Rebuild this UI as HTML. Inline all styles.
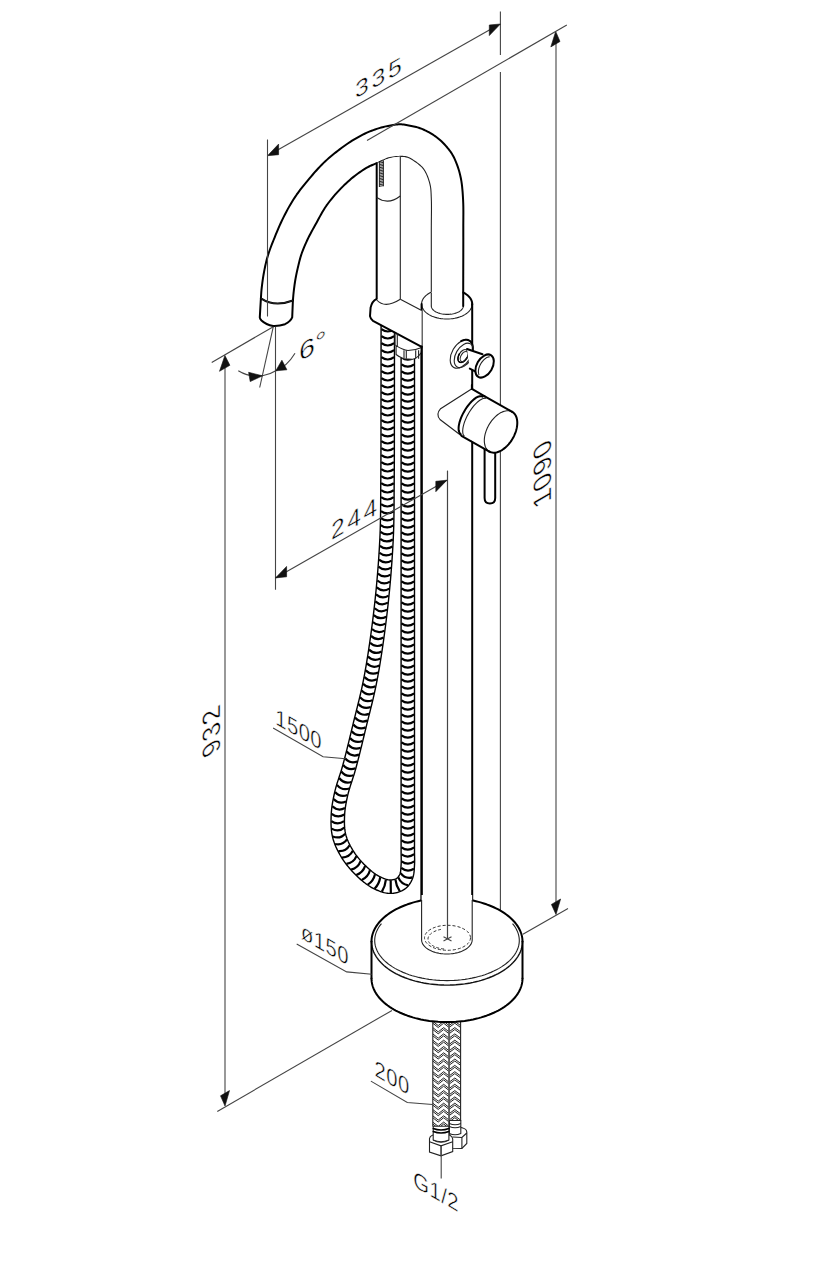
<!DOCTYPE html>
<html><head><meta charset="utf-8"><style>html,body{margin:0;padding:0;background:#fff;overflow:hidden;width:840px;height:1280px}svg{display:block}</style></head>
<body>
<svg width="840" height="1280" viewBox="0 0 840 1280">
<style>
.k{fill:none;stroke:#000;stroke-width:2;stroke-linejoin:round;stroke-linecap:round}
.kw{fill:#fff;stroke:#000;stroke-width:2;stroke-linejoin:round}
.t{fill:none;stroke:#222;stroke-width:1.1}
.tw{fill:#fff;stroke:#222;stroke-width:1.1}
.d{fill:none;stroke:#444;stroke-width:1.1}
.w{fill:#fff;stroke:none}
.ar{fill:#111;stroke:#111;stroke-width:0.6;stroke-linejoin:round}
.h{fill:none;stroke:#000;stroke-width:1.5;stroke-linecap:round}
.h2{fill:none;stroke:#111;stroke-width:0.9}
.he{fill:none;stroke:#000;stroke-width:1.4}
.hr{fill:none;stroke:#000;stroke-width:2.2}
.br{fill:none;stroke:#222;stroke-width:1}
.bm{fill:none;stroke:#666;stroke-width:1.6}
.m{fill:none;stroke:#111;stroke-width:1.4}
.dash{fill:none;stroke:#333;stroke-width:1;stroke-dasharray:3 2}
text{font-family:"Liberation Sans",sans-serif;fill:#000;stroke:#fff;stroke-width:0.5px}
</style>
<rect width="840" height="1280" fill="#fff"/>
<line x1="500.4" y1="11.4" x2="500.4" y2="55" class="d"/>
<line x1="500.4" y1="72" x2="500.4" y2="910.5" class="d"/>
<line x1="556" y1="36" x2="556" y2="910" class="d"/>
<line x1="522.9" y1="934.3" x2="568" y2="908.5" class="d"/>
<polygon points="555.7,31.4 560,41.5 550.8,46.9" class="ar"/>
<polygon points="556,914.5 560.6,899 551.4,904.4" class="ar"/>
<line x1="225" y1="360" x2="225" y2="1100" class="d"/>
<line x1="273.3" y1="326.7" x2="211.7" y2="362.5" class="d"/>
<line x1="392" y1="1010.4" x2="217.3" y2="1111.4" class="d"/>
<polygon points="224.9,355.5 229.9,365.3 219.5,371.3" class="ar"/>
<polygon points="225,1106 229.5,1090.6 220.5,1095.8" class="ar"/>
<path d="M260.9,298.4 L260.98,297.22 L261.05,296.06 L261.12,294.92 L261.19,293.77 L261.26,292.6 L261.36,291.39 L261.47,290.13 L261.6,288.8 L261.82,286.88 L262.07,284.82 L262.35,282.66 L262.66,280.44 L262.99,278.19 L263.34,275.94 L263.71,273.73 L264.1,271.6 L264.48,269.63 L264.87,267.68 L265.27,265.76 L265.7,263.85 L266.15,261.94 L266.63,260.03 L267.15,258.12 L267.7,256.2 L268.32,254.2 L268.97,252.22 L269.66,250.25 L270.38,248.27 L271.13,246.27 L271.92,244.23 L272.74,242.15 L273.6,240 L274.69,237.3 L275.83,234.49 L277.03,231.59 L278.28,228.65 L279.57,225.7 L280.89,222.76 L282.24,219.89 L283.6,217.1 L284.92,214.5 L286.26,211.93 L287.62,209.39 L289.02,206.88 L290.44,204.39 L291.91,201.94 L293.43,199.51 L295,197.1 L296.65,194.69 L298.36,192.31 L300.12,189.95 L301.93,187.62 L303.76,185.31 L305.61,183.04 L307.46,180.8 L309.3,178.6 L311.05,176.53 L312.81,174.48 L314.57,172.45 L316.35,170.46 L318.14,168.5 L319.94,166.58 L321.76,164.71 L323.6,162.9 L325.34,161.24 L327.11,159.63 L328.88,158.06 L330.67,156.53 L332.47,155.03 L334.27,153.56 L336.08,152.12 L337.9,150.7 L339.65,149.36 L341.41,148.03 L343.17,146.74 L344.94,145.47 L346.71,144.23 L348.5,143.02 L350.29,141.84 L352.1,140.7 L353.86,139.62 L355.63,138.56 L357.42,137.53 L359.21,136.52 L361,135.56 L362.8,134.63 L364.6,133.74 L366.4,132.9 L368.11,132.15 L369.85,131.43 L371.6,130.75 L373.34,130.1 L375.07,129.49 L376.76,128.92 L378.41,128.39 L380,127.9 L381.23,127.54 L382.42,127.21 L383.57,126.92 L384.7,126.64 L385.83,126.39 L386.96,126.15 L388.11,125.92 L389.3,125.7 L390.6,125.46 L391.92,125.21 L393.27,124.98 L394.62,124.76 L395.98,124.57 L397.33,124.42 L398.67,124.33 L400,124.3 L401.27,124.34 L402.53,124.43 L403.78,124.58 L405.03,124.76 L406.27,124.98 L407.52,125.21 L408.76,125.46 L410,125.7 L411.26,125.95 L412.52,126.2 L413.77,126.47 L415.03,126.76 L416.28,127.07 L417.53,127.41 L418.77,127.78 L420,128.2 L421.27,128.67 L422.54,129.18 L423.8,129.72 L425.05,130.29 L426.3,130.9 L427.54,131.54 L428.78,132.2 L430,132.9 L431.28,133.66 L432.55,134.44 L433.81,135.26 L435.07,136.11 L436.31,137 L437.55,137.94 L438.78,138.94 L440,140 L441.44,141.33 L442.91,142.77 L444.38,144.3 L445.84,145.88 L447.26,147.51 L448.6,149.15 L449.86,150.79 L451,152.4 L451.9,153.79 L452.72,155.17 L453.48,156.55 L454.19,157.94 L454.85,159.35 L455.48,160.79 L456.1,162.27 L456.7,163.8 L457.36,165.55 L457.98,167.35 L458.57,169.19 L459.13,171.06 L459.65,172.98 L460.14,174.94 L460.59,176.95 L461,179 L461.42,181.42 L461.78,183.9 L462.09,186.44 L462.35,189.03 L462.58,191.69 L462.77,194.4 L462.94,197.17 L463.1,200 L463.25,203.42 L463.33,206.86 L463.37,210.37 L463.37,213.97 L463.35,217.7 L463.32,221.59 L463.3,225.68 L463.3,230 L463.31,236.8 L463.31,244.2 L463.3,252.06 L463.28,260.23 L463.26,268.59 L463.24,277 L463.22,285.31 L463.2,293.4 L463.2,305 L431.3,305 L431.3,295.41 L431.3,285.5 L431.3,275.46 L431.3,265.49 L431.3,255.77 L431.3,246.49 L431.3,237.84 L431.3,230 L431.32,225.35 L431.35,220.92 L431.4,216.7 L431.44,212.69 L431.47,208.89 L431.46,205.27 L431.41,201.85 L431.3,198.6 L431.22,196.54 L431.15,194.62 L431.07,192.81 L430.97,191.07 L430.84,189.38 L430.64,187.71 L430.37,186.03 L430,184.3 L429.52,182.45 L428.97,180.55 L428.34,178.63 L427.65,176.74 L426.89,174.89 L426.08,173.13 L425.21,171.49 L424.3,170 L423.52,168.91 L422.71,167.9 L421.86,166.97 L420.97,166.1 L420.05,165.27 L419.1,164.47 L418.12,163.68 L417.1,162.9 L415.96,162.05 L414.74,161.19 L413.48,160.35 L412.18,159.54 L410.88,158.79 L409.58,158.12 L408.31,157.55 L407.1,157.1 L406.19,156.84 L405.32,156.65 L404.46,156.52 L403.61,156.43 L402.75,156.39 L401.88,156.38 L400.96,156.38 L400,156.4 L398.7,156.44 L397.33,156.51 L395.91,156.62 L394.45,156.77 L392.98,156.97 L391.5,157.23 L390.03,157.53 L388.6,157.9 L387.09,158.39 L385.57,158.98 L384.04,159.64 L382.52,160.36 L381.02,161.1 L379.54,161.84 L378.1,162.55 L376.7,163.2 L375.54,163.7 L374.44,164.16 L373.36,164.6 L372.29,165.03 L371.23,165.48 L370.15,165.96 L369.05,166.5 L367.9,167.1 L366.38,167.96 L364.81,168.9 L363.2,169.9 L361.57,170.97 L359.92,172.09 L358.27,173.26 L356.62,174.46 L355,175.7 L353.2,177.13 L351.4,178.61 L349.59,180.15 L347.78,181.75 L345.99,183.4 L344.2,185.09 L342.44,186.83 L340.7,188.6 L338.83,190.57 L336.96,192.61 L335.09,194.72 L333.24,196.87 L331.43,199.06 L329.68,201.27 L328,203.49 L326.4,205.7 L324.98,207.8 L323.64,209.93 L322.37,212.07 L321.14,214.23 L319.94,216.4 L318.77,218.57 L317.59,220.74 L316.4,222.9 L315.21,225.04 L314.01,227.2 L312.81,229.36 L311.63,231.53 L310.48,233.68 L309.37,235.82 L308.3,237.93 L307.3,240 L306.46,241.8 L305.65,243.58 L304.88,245.34 L304.13,247.08 L303.42,248.81 L302.75,250.54 L302.11,252.27 L301.5,254 L300.97,255.63 L300.47,257.26 L300.01,258.88 L299.58,260.51 L299.17,262.13 L298.78,263.75 L298.39,265.37 L298,267 L297.62,268.62 L297.25,270.25 L296.89,271.87 L296.54,273.5 L296.21,275.13 L295.89,276.75 L295.59,278.38 L295.3,280 L295.04,281.61 L294.79,283.25 L294.55,284.9 L294.33,286.55 L294.13,288.16 L293.94,289.74 L293.76,291.26 L293.6,292.7 L293.49,293.76 L293.39,294.78 L293.3,295.76 L293.22,296.72 L293.14,297.66 L293.06,298.59 L292.98,299.54 L292.9,300.5Z" class="w"/>
<path d="M260.9,298.4 L260.98,297.22 L261.05,296.06 L261.12,294.92 L261.19,293.77 L261.26,292.6 L261.36,291.39 L261.47,290.13 L261.6,288.8 L261.82,286.88 L262.07,284.82 L262.35,282.66 L262.66,280.44 L262.99,278.19 L263.34,275.94 L263.71,273.73 L264.1,271.6 L264.48,269.63 L264.87,267.68 L265.27,265.76 L265.7,263.85 L266.15,261.94 L266.63,260.03 L267.15,258.12 L267.7,256.2 L268.32,254.2 L268.97,252.22 L269.66,250.25 L270.38,248.27 L271.13,246.27 L271.92,244.23 L272.74,242.15 L273.6,240 L274.69,237.3 L275.83,234.49 L277.03,231.59 L278.28,228.65 L279.57,225.7 L280.89,222.76 L282.24,219.89 L283.6,217.1 L284.92,214.5 L286.26,211.93 L287.62,209.39 L289.02,206.88 L290.44,204.39 L291.91,201.94 L293.43,199.51 L295,197.1 L296.65,194.69 L298.36,192.31 L300.12,189.95 L301.93,187.62 L303.76,185.31 L305.61,183.04 L307.46,180.8 L309.3,178.6 L311.05,176.53 L312.81,174.48 L314.57,172.45 L316.35,170.46 L318.14,168.5 L319.94,166.58 L321.76,164.71 L323.6,162.9 L325.34,161.24 L327.11,159.63 L328.88,158.06 L330.67,156.53 L332.47,155.03 L334.27,153.56 L336.08,152.12 L337.9,150.7 L339.65,149.36 L341.41,148.03 L343.17,146.74 L344.94,145.47 L346.71,144.23 L348.5,143.02 L350.29,141.84 L352.1,140.7 L353.86,139.62 L355.63,138.56 L357.42,137.53 L359.21,136.52 L361,135.56 L362.8,134.63 L364.6,133.74 L366.4,132.9 L368.11,132.15 L369.85,131.43 L371.6,130.75 L373.34,130.1 L375.07,129.49 L376.76,128.92 L378.41,128.39 L380,127.9 L381.23,127.54 L382.42,127.21 L383.57,126.92 L384.7,126.64 L385.83,126.39 L386.96,126.15 L388.11,125.92 L389.3,125.7 L390.6,125.46 L391.92,125.21 L393.27,124.98 L394.62,124.76 L395.98,124.57 L397.33,124.42 L398.67,124.33 L400,124.3 L401.27,124.34 L402.53,124.43 L403.78,124.58 L405.03,124.76 L406.27,124.98 L407.52,125.21 L408.76,125.46 L410,125.7 L411.26,125.95 L412.52,126.2 L413.77,126.47 L415.03,126.76 L416.28,127.07 L417.53,127.41 L418.77,127.78 L420,128.2 L421.27,128.67 L422.54,129.18 L423.8,129.72 L425.05,130.29 L426.3,130.9 L427.54,131.54 L428.78,132.2 L430,132.9 L431.28,133.66 L432.55,134.44 L433.81,135.26 L435.07,136.11 L436.31,137 L437.55,137.94 L438.78,138.94 L440,140 L441.44,141.33 L442.91,142.77 L444.38,144.3 L445.84,145.88 L447.26,147.51 L448.6,149.15 L449.86,150.79 L451,152.4 L451.9,153.79 L452.72,155.17 L453.48,156.55 L454.19,157.94 L454.85,159.35 L455.48,160.79 L456.1,162.27 L456.7,163.8 L457.36,165.55 L457.98,167.35 L458.57,169.19 L459.13,171.06 L459.65,172.98 L460.14,174.94 L460.59,176.95 L461,179 L461.42,181.42 L461.78,183.9 L462.09,186.44 L462.35,189.03 L462.58,191.69 L462.77,194.4 L462.94,197.17 L463.1,200 L463.25,203.42 L463.33,206.86 L463.37,210.37 L463.37,213.97 L463.35,217.7 L463.32,221.59 L463.3,225.68 L463.3,230 L463.31,236.8 L463.31,244.2 L463.3,252.06 L463.28,260.23 L463.26,268.59 L463.24,277 L463.22,285.31 L463.2,293.4" class="k"/>
<path d="M292.9,300.5 L292.98,299.54 L293.06,298.59 L293.14,297.66 L293.22,296.72 L293.3,295.76 L293.39,294.78 L293.49,293.76 L293.6,292.7 L293.76,291.26 L293.94,289.74 L294.13,288.16 L294.33,286.55 L294.55,284.9 L294.79,283.25 L295.04,281.61 L295.3,280 L295.59,278.38 L295.89,276.75 L296.21,275.13 L296.54,273.5 L296.89,271.87 L297.25,270.25 L297.62,268.62 L298,267 L298.39,265.37 L298.78,263.75 L299.17,262.13 L299.58,260.51 L300.01,258.88 L300.47,257.26 L300.97,255.63 L301.5,254 L302.11,252.27 L302.75,250.54 L303.42,248.81 L304.13,247.08 L304.88,245.34 L305.65,243.58 L306.46,241.8 L307.3,240 L308.3,237.93 L309.37,235.82 L310.48,233.68 L311.63,231.53 L312.81,229.36 L314.01,227.2 L315.21,225.04 L316.4,222.9 L317.59,220.74 L318.77,218.57 L319.94,216.4 L321.14,214.23 L322.37,212.07 L323.64,209.93 L324.98,207.8 L326.4,205.7 L328,203.49 L329.68,201.27 L331.43,199.06 L333.24,196.87 L335.09,194.72 L336.96,192.61 L338.83,190.57 L340.7,188.6 L342.44,186.83 L344.2,185.09 L345.99,183.4 L347.78,181.75 L349.59,180.15 L351.4,178.61 L353.2,177.13 L355,175.7 L356.62,174.46 L358.27,173.26 L359.92,172.09 L361.57,170.97 L363.2,169.9 L364.81,168.9 L366.38,167.96 L367.9,167.1 L369.05,166.5 L370.15,165.96 L371.23,165.48 L372.29,165.03 L373.36,164.6 L374.44,164.16 L375.54,163.7 L376.7,163.2" class="k"/>
<path d="M376.7,163.2 L378.1,162.55 L379.54,161.84 L381.02,161.1 L382.52,160.36 L384.04,159.64 L385.57,158.98 L387.09,158.39 L388.6,157.9 L390.03,157.53 L391.5,157.23 L392.98,156.97 L394.45,156.77 L395.91,156.62 L397.33,156.51 L398.7,156.44 L400,156.4 L400.96,156.38 L401.88,156.38 L402.75,156.39 L403.61,156.43 L404.46,156.52 L405.32,156.65 L406.19,156.84 L407.1,157.1 L408.31,157.55 L409.58,158.12 L410.88,158.79 L412.18,159.54 L413.48,160.35 L414.74,161.19 L415.96,162.05 L417.1,162.9 L418.12,163.68 L419.1,164.47 L420.05,165.27 L420.97,166.1 L421.86,166.97 L422.71,167.9 L423.52,168.91 L424.3,170 L425.21,171.49 L426.08,173.13 L426.89,174.89 L427.65,176.74 L428.34,178.63 L428.97,180.55 L429.52,182.45 L430,184.3 L430.37,186.03 L430.64,187.71 L430.84,189.38 L430.97,191.07 L431.07,192.81 L431.15,194.62 L431.22,196.54 L431.3,198.6 L431.41,201.85 L431.46,205.27 L431.47,208.89 L431.44,212.69 L431.4,216.7 L431.35,220.92 L431.32,225.35 L431.3,230 L431.3,237.84 L431.3,246.49 L431.3,255.77 L431.3,265.49 L431.3,275.46 L431.3,285.5 L431.3,295.41 L431.3,305" class="t"/>
<path d="M260.9,298.4 Q274.6,307.5 292.9,300.5 L292.2,317.4 Q290.5,321.5 285,324.2 Q279,326.2 273.2,325.9 Q266,324.8 261.5,320.5 Q259.8,318.6 259.8,317.4 Z" class="kw"/>
<path d="M260.9,298.4 Q274.6,307.5 292.9,300.5" class="t"/>
<rect x="421.59999999999997" y="304" width="50.6" height="636" class="w"/>
<path d="M421.6,304 L421.68,302.82 L421.91,301.65 L422.3,300.5 L422.84,299.36 L423.53,298.26 L424.36,297.19 L425.33,296.16 L426.43,295.18 L427.66,294.26 L429.01,293.39 L430.47,292.59 L432.03,291.86 L433.68,291.21 L435.41,290.63 L437.22,290.14 L439.08,289.73 L440.99,289.41 L442.94,289.18 L444.91,289.05 L446.9,289 L448.89,289.05 L450.86,289.18 L452.81,289.41 L454.72,289.73 L456.58,290.14 L458.39,290.63 L460.12,291.21 L461.77,291.86 L463.33,292.59 L464.79,293.39 L466.14,294.26 L467.37,295.18 L468.47,296.16 L469.44,297.19 L470.27,298.26 L470.96,299.36 L471.5,300.5 L471.89,301.65 L472.12,302.82 L472.2,304" class="w"/>
<path d="M431.32,292.18 L430.88,292.39 L430.44,292.61 L430,292.84 L429.58,293.07 L429.17,293.3 L428.76,293.54 L428.37,293.79 L427.98,294.04 L427.6,294.3 L427.24,294.56 L426.88,294.83 L426.54,295.1 L426.2,295.37 L425.88,295.66 L425.56,295.94 L425.26,296.23 L424.97,296.52 L424.69,296.82 L424.42,297.12 L424.16,297.42 L423.91,297.73 L423.68,298.04 L423.46,298.36 L423.25,298.67 L423.05,298.99 L422.87,299.31 L422.69,299.64 L422.53,299.97 L422.38,300.3 L422.25,300.63 L422.13,300.96 L422.02,301.29 L421.92,301.63 L421.83,301.96 L421.76,302.3 L421.7,302.64 L421.66,302.98 L421.63,303.32 L421.61,303.66 L421.6,304" class="t"/>
<path d="M472.2,304 L472.12,305.18 L471.89,306.35 L471.5,307.5 L470.96,308.64 L470.27,309.74 L469.44,310.81 L468.47,311.84 L467.37,312.82 L466.14,313.74 L464.79,314.61 L463.33,315.41 L461.77,316.14 L460.12,316.79 L458.39,317.37 L456.58,317.86 L454.72,318.27 L452.81,318.59 L450.86,318.82 L448.89,318.95 L446.9,319 L444.91,318.95 L442.94,318.82 L440.99,318.59 L439.08,318.27 L437.22,317.86 L435.41,317.37 L433.68,316.79 L432.03,316.14 L430.47,315.41 L429.01,314.61 L427.66,313.74 L426.43,312.82 L425.33,311.84 L424.36,310.81 L423.53,309.74 L422.84,308.64 L422.3,307.5 L421.91,306.35 L421.68,305.18 L421.6,304" class="t"/>
<path d="M463.16,292.51 L463.61,292.74 L464.04,292.97 L464.47,293.21 L464.88,293.45 L465.29,293.7 L465.69,293.95 L466.07,294.21 L466.45,294.48 L466.82,294.75 L467.17,295.03 L467.52,295.31 L467.85,295.59 L468.17,295.88 L468.48,296.17 L468.78,296.47 L469.07,296.77 L469.35,297.08 L469.61,297.39 L469.86,297.7 L470.1,298.02 L470.33,298.34 L470.54,298.66 L470.75,298.99 L470.93,299.31 L471.11,299.65 L471.27,299.98 L471.42,300.31 L471.56,300.65 L471.69,300.99 L471.8,301.33 L471.89,301.67 L471.98,302.02 L472.05,302.36 L472.11,302.71 L472.15,303.05 L472.18,303.4 L472.2,303.74 L472.2,304.09 L472.19,304.44 L472.17,304.79" class="k"/>
<path d="M463.3,305.9 L463.25,306.57 L463.1,307.23 L462.86,307.88 L462.52,308.53 L462.08,309.15 L461.56,309.76 L460.94,310.34 L460.24,310.9 L459.47,311.42 L458.61,311.91 L457.69,312.36 L456.7,312.78 L455.66,313.15 L454.56,313.47 L453.42,313.75 L452.24,313.98 L451.04,314.17 L449.8,314.3 L448.56,314.37 L447.3,314.4 L446.04,314.37 L444.8,314.3 L443.56,314.17 L442.36,313.98 L441.18,313.75 L440.04,313.47 L438.94,313.15 L437.9,312.78 L436.91,312.36 L435.99,311.91 L435.13,311.42 L434.36,310.9 L433.66,310.34 L433.04,309.76 L432.52,309.15 L432.08,308.53 L431.74,307.88 L431.5,307.23 L431.35,306.57 L431.3,305.9" class="t"/>
<line x1="421.6" y1="304" x2="421.6" y2="940" class="k"/>
<line x1="472.2" y1="304" x2="472.2" y2="940" class="k"/>
<line x1="463.2" y1="293" x2="463.2" y2="306" class="k"/>
<line x1="431.3" y1="292.7" x2="431.3" y2="306" class="t"/>
<path d="M376.7,163.5 Q388,157.3 400.3,156.5 L400.3,299.3 L376.7,300 Z" class="w"/>
<line x1="376.7" y1="163.5" x2="376.7" y2="300.5" class="k"/>
<line x1="400.3" y1="156.5" x2="400.3" y2="299.3" class="t"/>
<path d="M376.7,197.4 Q388,205.5 400.3,196" class="t"/>
<line x1="379.4" y1="161" x2="379.4" y2="187" class="h2"/>
<line x1="383.4" y1="160.3" x2="383.4" y2="186.3" class="h2"/>
<line x1="379.4" y1="161.5" x2="383.4" y2="160.8" class="h2"/>
<line x1="379.4" y1="163.05" x2="383.4" y2="162.35" class="h2"/>
<line x1="379.4" y1="164.6" x2="383.4" y2="163.9" class="h2"/>
<line x1="379.4" y1="166.15" x2="383.4" y2="165.45" class="h2"/>
<line x1="379.4" y1="167.7" x2="383.4" y2="167" class="h2"/>
<line x1="379.4" y1="169.25" x2="383.4" y2="168.55" class="h2"/>
<line x1="379.4" y1="170.8" x2="383.4" y2="170.1" class="h2"/>
<line x1="379.4" y1="172.35" x2="383.4" y2="171.65" class="h2"/>
<line x1="379.4" y1="173.9" x2="383.4" y2="173.2" class="h2"/>
<line x1="379.4" y1="175.45" x2="383.4" y2="174.75" class="h2"/>
<line x1="379.4" y1="177" x2="383.4" y2="176.3" class="h2"/>
<line x1="379.4" y1="178.55" x2="383.4" y2="177.85" class="h2"/>
<line x1="379.4" y1="180.1" x2="383.4" y2="179.4" class="h2"/>
<line x1="379.4" y1="181.65" x2="383.4" y2="180.95" class="h2"/>
<line x1="379.4" y1="183.2" x2="383.4" y2="182.5" class="h2"/>
<line x1="379.4" y1="184.75" x2="383.4" y2="184.05" class="h2"/>
<line x1="379.4" y1="186.3" x2="383.4" y2="185.6" class="h2"/>
<path d="M381.1,317.99 L381.1,318.99 L381.1,319.99 L381.1,320.99 L381.1,321.99 L381.09,322.99 L381.09,323.99 L381.09,324.99 L381.09,325.99 L381.09,326.99 L381.09,327.99 L381.09,328.99 L381.09,329.99 L381.09,330.99 L381.08,331.99 L381.08,332.99 L381.08,333.99 L381.08,334.99 L381.08,335.99 L381.08,336.99 L381.08,337.99 L381.08,338.99 L381.08,339.99 L381.07,340.99 L381.07,341.99 L381.07,342.99 L381.07,343.99 L381.07,344.99 L381.07,345.99 L381.07,346.99 L381.07,347.99 L381.07,348.99 L381.07,349.99 L381.06,350.99 L381.06,351.99 L381.06,352.99 L381.06,353.99 L381.06,354.99 L381.06,355.99 L381.06,356.99 L381.06,357.99 L381.06,358.99 L381.06,359.99 L381.05,360.99 L381.05,361.99 L381.05,362.99 L381.05,363.99 L381.05,364.99 L381.05,365.99 L381.05,366.99 L381.05,367.99 L381.05,368.99 L381.04,369.99 L381.04,370.99 L381.04,371.99 L381.04,372.99 L381.04,373.99 L381.04,374.99 L381.04,375.99 L381.04,376.99 L381.03,377.99 L381.03,378.99 L381.03,379.99 L381.03,380.99 L381.03,381.99 L381.03,382.99 L381.03,383.99 L381.02,384.99 L381.02,385.99 L381.02,386.99 L381.02,387.99 L381.02,388.99 L381.02,389.99 L381.02,390.99 L381.01,391.99 L381.01,392.99 L381.01,393.99 L381.01,394.99 L381.01,395.99 L381.01,396.99 L381,397.99 L381,398.99 L381,399.99 L381,400.99 L381,401.99 L381,402.99 L380.99,403.99 L380.99,404.99 L380.99,405.99 L380.99,406.99 L380.99,407.99 L380.99,408.99 L380.99,409.99 L380.99,410.99 L380.99,411.99 L380.98,412.99 L380.98,414 L380.98,415 L380.98,416 L380.98,417 L380.98,418 L380.98,419 L380.98,420 L380.98,421 L380.98,422 L380.98,423 L380.98,424 L380.98,425 L380.98,426 L380.98,427 L380.98,428 L380.98,429 L380.98,430 L380.98,431 L380.98,432 L380.98,433 L380.98,433.99 L380.97,434.99 L380.97,435.99 L380.97,436.99 L380.97,437.99 L380.97,438.99 L380.97,439.99 L380.97,440.99 L380.97,441.99 L380.97,442.99 L380.97,443.99 L380.96,444.99 L380.96,445.99 L380.96,446.99 L380.96,447.99 L380.96,448.99 L380.96,449.99 L380.95,450.99 L380.95,451.99 L380.95,452.99 L380.95,453.99 L380.94,454.98 L380.94,455.98 L380.94,456.98 L380.93,457.98 L380.93,458.98 L380.93,459.98 L380.92,460.97 L380.92,461.97 L380.91,462.97 L380.91,463.97 L380.9,464.97 L380.9,465.97 L380.9,466.97 L380.89,467.96 L380.88,468.96 L380.88,469.96 L380.87,470.96 L380.86,471.96 L380.86,472.96 L380.85,473.94 L380.84,474.94 L380.83,475.94 L380.83,476.94 L380.82,477.94 L380.81,478.94 L380.8,479.94 L380.79,480.94 L380.78,481.94 L380.78,482.94 L380.77,483.94 L380.76,484.94 L380.75,485.96 L380.75,486.96 L380.74,487.96 L380.73,488.96 L380.73,489.96 L380.72,490.97 L380.72,491.97 L380.71,492.97 L380.71,493.97 L380.7,494.97 L380.7,495.97 L380.7,496.97 L380.69,497.97 L380.69,498.97 L380.68,499.97 L380.68,500.96 L380.67,501.96 L380.66,502.96 L380.66,503.96 L380.65,504.96 L380.65,505.94 L380.64,506.94 L380.63,507.94 L380.62,508.94 L380.61,509.94 L380.6,510.92 L380.59,511.92 L380.58,512.92 L380.57,513.92 L380.55,514.92 L380.54,515.89 L380.52,516.89 L380.51,517.89 L380.49,518.89 L380.47,519.85 L380.45,520.85 L380.43,521.85 L380.41,522.85 L380.38,523.85 L380.36,524.8 L380.33,525.8 L380.3,526.8 L380.27,527.8 L380.25,528.8 L380.22,529.75 L380.18,530.75 L380.14,531.75 L380.11,532.75 L380.07,533.74 L380.03,534.69 L379.99,535.69 L379.94,536.69 L379.9,537.68 L379.85,538.68 L379.81,539.68 L379.76,540.63 L379.7,541.63 L379.65,542.63 L379.6,543.63 L379.55,544.63 L379.49,545.59 L379.44,546.59 L379.38,547.58 L379.32,548.58 L379.26,549.58 L379.2,550.58 L379.14,551.54 L379.08,552.54 L379.02,553.54 L378.95,554.53 L378.89,555.53 L378.83,556.53 L378.76,557.49 L378.69,558.49 L378.62,559.49 L378.55,560.48 L378.48,561.48 L378.41,562.48 L378.34,563.44 L378.27,564.44 L378.19,565.43 L378.12,566.43 L378.04,567.43 L377.97,568.39 L377.89,569.39 L377.81,570.38 L377.73,571.38 L377.65,572.38 L377.57,573.38 L377.49,574.34 L377.41,575.33 L377.32,576.33 L377.24,577.33 L377.15,578.32 L377.07,579.32 L376.99,580.28 L376.9,581.28 L376.8,582.27 L376.71,583.27 L376.62,584.26 L376.53,585.26 L376.45,586.22 L376.35,587.21 L376.25,588.21 L376.16,589.21 L376.06,590.2 L375.97,591.2 L375.87,592.16 L375.77,593.15 L375.67,594.15 L375.57,595.14 L375.47,596.14 L375.37,597.13 L375.27,598.09 L375.16,599.08 L375.06,600.08 L374.95,601.07 L374.84,602.07 L374.74,603.06 L374.63,604.02 L374.52,605.01 L374.41,606.01 L374.3,607 L374.18,607.99 L374.07,608.99 L373.96,609.94 L373.84,610.94 L373.73,611.93 L373.61,612.92 L373.49,613.92 L373.37,614.91 L373.26,615.87 L373.13,616.86 L373.01,617.85 L372.89,618.85 L372.77,619.84 L372.65,620.83 L372.52,621.79 L372.4,622.78 L372.27,623.77 L372.14,624.77 L372.02,625.76 L371.89,626.75 L371.76,627.71 L371.63,628.7 L371.5,629.69 L371.36,630.68 L371.23,631.67 L371.1,632.66 L370.97,633.62 L370.83,634.61 L370.69,635.6 L370.56,636.59 L370.42,637.58 L370.28,638.57 L370.15,639.53 L370,640.52 L369.86,641.51 L369.72,642.5 L369.58,643.49 L369.43,644.48 L369.29,645.43 L369.14,646.42 L369,647.4 L368.85,648.39 L368.7,649.38 L368.55,650.37 L368.4,651.32 L368.25,652.31 L368.1,653.3 L367.94,654.28 L367.79,655.27 L367.63,656.26 L367.48,657.21 L367.32,658.19 L367.16,659.18 L367,660.17 L366.84,661.15 L366.69,662.09 L366.52,663.08 L366.35,664.07 L366.19,665.05 L366.02,666.04 L365.85,667.02 L365.69,667.96 L365.52,668.94 L365.34,669.93 L365.17,670.91 L364.99,671.9 L364.82,672.88 L364.64,673.81 L364.46,674.79 L364.28,675.78 L364.1,676.76 L363.91,677.74 L363.74,678.66 L363.54,679.64 L363.35,680.62 L363.16,681.6 L362.98,682.51 L362.77,683.49 L362.57,684.47 L362.36,685.45 L362.17,686.36 L361.96,687.34 L361.75,688.31 L361.53,689.29 L361.33,690.21 L361.11,691.19 L360.89,692.16 L360.66,693.14 L360.45,694.06 L360.22,695.03 L359.99,696.01 L359.76,696.98 L359.54,697.91 L359.31,698.89 L359.07,699.86 L358.83,700.83 L358.6,701.77 L358.36,702.74 L358.12,703.71 L357.88,704.68 L357.65,705.63 L357.4,706.6 L357.16,707.57 L356.92,708.54 L356.68,709.51 L356.43,710.48 L356.19,711.45 L355.94,712.42 L355.7,713.39 L355.46,714.36 L355.21,715.33 L354.97,716.31 L354.73,717.28 L354.48,718.25 L354.24,719.22 L354,720.22 L353.76,721.19 L353.52,722.16 L353.28,723.15 L353.05,724.13 L352.81,725.1 L352.58,726.07 L352.34,727.05 L352.11,728.02 L351.87,728.99 L351.64,729.96 L351.4,730.93 L351.17,731.91 L350.94,732.88 L350.7,733.85 L350.47,734.82 L350.23,735.79 L350,736.76 L349.76,737.74 L349.53,738.7 L349.29,739.67 L349.06,740.64 L348.82,741.6 L348.59,742.58 L348.35,743.55 L348.11,744.52 L347.88,745.47 L347.64,746.44 L347.4,747.42 L347.16,748.39 L346.92,749.34 L346.68,750.31 L346.43,751.28 L346.2,752.22 L345.95,753.19 L345.71,754.16 L345.46,755.13 L345.22,756.07 L344.97,757.04 L344.72,758.01 L344.47,758.98 L344.22,759.91 L343.97,760.87 L343.71,761.84 L343.46,762.77 L343.2,763.73 L342.94,764.7 L342.69,765.58 L342.42,766.54 L342.15,767.51 L341.89,768.37 L341.6,769.33 L341.34,770.21 L341.04,771.17 L340.74,772.12 L340.45,773.02 L340.15,773.97 L339.85,774.89 L339.54,775.84 L339.23,776.79 L338.92,777.74 L338.6,778.69 L338.29,779.66 L337.98,780.61 L337.66,781.6 L337.36,782.56 L337.03,783.58 L336.74,784.54 L336.42,785.6 L336.14,786.56 L335.87,787.52 L335.57,788.61 L335.31,789.58 L335.03,790.7 L334.8,791.68 L334.55,792.76 L334.33,793.73 L334.1,794.76 L333.89,795.73 L333.67,796.77 L333.47,797.75 L333.26,798.79 L333.06,799.85 L332.87,800.84 L332.68,801.91 L332.51,802.9 L332.34,803.98 L332.18,804.97 L332.02,806.07 L331.87,807.18 L331.75,808.18 L331.62,809.3 L331.53,810.29 L331.42,811.43 L331.34,812.43 L331.27,813.57 L331.21,814.57 L331.17,815.67 L331.12,816.73 L331.09,817.73 L331.06,818.81 L331.04,819.81 L331.03,820.91 L331.02,821.91 L331.03,823.03 L331.05,824.17 L331.08,825.17 L331.13,826.33 L331.19,827.32 L331.27,828.5 L331.36,829.5 L331.48,830.69 L331.62,831.9 L331.77,832.89 L331.97,834.13 L332.15,835.11 L332.41,836.35 L332.63,837.33 L332.95,838.56 L333.29,839.77 L333.59,840.72 L333.98,841.9 L334.31,842.84 L334.74,843.98 L335.1,844.91 L335.56,846.02 L336.03,847.11 L336.45,848.02 L336.95,849.08 L337.39,849.98 L337.91,851.01 L338.37,851.9 L338.92,852.9 L339.46,853.89 L339.96,854.76 L340.52,855.73 L341.04,856.59 L341.62,857.54 L342.22,858.51 L342.76,859.35 L343.41,860.32 L343.97,861.15 L344.64,862.1 L345.23,862.91 L345.92,863.83 L346.61,864.74 L347.23,865.53 L347.95,866.41 L348.58,867.18 L349.31,868.05 L349.96,868.81 L350.71,869.65 L351.45,870.48 L352.13,871.22 L352.89,872.03 L353.58,872.75 L354.36,873.55 L355.14,874.34 L355.85,875.04 L356.64,875.8 L357.36,876.49 L358.15,877.23 L358.96,877.97 L359.7,878.64 L360.53,879.38 L361.37,880.12 L362.13,880.76 L363.01,881.49 L363.78,882.12 L364.69,882.82 L365.62,883.53 L366.42,884.12 L367.39,884.8 L368.38,885.48 L369.22,886.02 L370.26,886.67 L371.34,887.3 L372.21,887.78 L373.27,888.34 L374.28,888.85 L375.31,889.35 L376.22,889.77 L377.28,890.24 L378.37,890.7 L379.5,891.15 L380.44,891.49 L381.61,891.88 L382.82,892.25 L384.08,892.59 L385.39,892.89 L386.38,893.07 L387.76,893.25 L389.21,893.37 L390.65,893.39 L392.01,893.33 L393.35,893.21 L394.66,893.02 L395.96,892.76 L397.23,892.45 L398.5,892.08 L399.75,891.64 L400.99,891.13 L402.22,890.55 L403.44,889.89 L404.65,889.12 L406.17,887.94 L407.22,886.96 L408.17,885.94 L409.23,884.6 L409.97,883.51 L410.64,882.42 L411.25,881.31 L411.88,879.99 L412.36,878.89 L412.82,877.65 L413.24,876.3 L413.62,874.68 L413.84,873.44 L414,872.25 L414.12,871.1 L414.21,869.99 L414.28,868.92 L414.34,867.88 L414.4,866.89 L414.45,865.94 L414.52,864.91 L414.57,863.79 L414.61,862.67 L414.63,861.57 L414.64,860.48 L414.63,859.42 L414.61,858.39 L414.59,857.39 L414.57,856.38 L414.55,855.39 L414.54,854.42 L414.52,853.42 L414.51,852.46 L414.5,851.5 L414.5,850.5 L414.5,849.52 L414.5,848.52 L414.5,847.52 L414.5,846.52 L414.5,845.52 L414.5,844.52 L414.5,843.52 L414.5,842.52 L414.5,841.52 L414.5,840.52 L414.5,839.52 L414.5,838.52 L414.5,837.52 L414.5,836.52 L414.5,835.52 L414.5,834.52 L414.5,833.52 L414.5,832.52 L414.5,831.52 L414.5,830.52 L414.5,829.52 L414.5,828.52 L414.5,827.52 L414.5,826.52 L414.5,825.52 L414.5,824.52 L414.5,823.52 L414.5,822.52 L414.5,821.52 L414.5,820.52 L414.5,819.52 L414.5,818.52 L414.5,817.52 L414.5,816.52 L414.5,815.52 L414.5,814.52 L414.5,813.52 L414.5,812.52 L414.5,811.52 L414.5,810.52 L414.5,809.52 L414.5,808.52 L414.5,807.52 L414.5,806.52 L414.5,805.52 L414.5,804.52 L414.5,803.52 L414.5,802.52 L414.5,801.52 L414.5,800.52 L414.5,799.52 L414.5,798.52 L414.5,797.52 L414.5,796.52 L414.5,795.52 L414.5,794.52 L414.5,793.52 L414.5,792.52 L414.5,791.52 L414.5,790.52 L414.5,789.52 L414.5,788.52 L414.5,787.52 L414.5,786.52 L414.5,785.52 L414.5,784.52 L414.5,783.52 L414.5,782.52 L414.5,781.52 L414.5,780.52 L414.5,779.52 L414.5,778.52 L414.5,777.52 L414.5,776.52 L414.5,775.52 L414.5,774.52 L414.5,773.52 L414.5,772.52 L414.5,771.52 L414.5,770.52 L414.5,769.52 L414.5,768.52 L414.5,767.52 L414.5,766.52 L414.5,765.52 L414.5,764.52 L414.5,763.52 L414.5,762.52 L414.5,761.52 L414.5,760.52 L414.5,759.52 L414.5,758.52 L414.5,757.52 L414.5,756.52 L414.5,755.52 L414.5,754.52 L414.5,753.52 L414.5,752.52 L414.5,751.52 L414.5,750.52 L414.5,749.52 L414.5,748.52 L414.5,747.52 L414.5,746.52 L414.5,745.52 L414.5,744.52 L414.5,743.52 L414.5,742.52 L414.5,741.52 L414.5,740.52 L414.5,739.52 L414.5,738.52 L414.5,737.52 L414.5,736.52 L414.5,735.52 L414.5,734.52 L414.5,733.52 L414.5,732.52 L414.5,731.52 L414.5,730.52 L414.5,729.52 L414.5,728.52 L414.5,727.52 L414.5,726.52 L414.5,725.52 L414.5,724.52 L414.5,723.52 L414.5,722.52 L414.5,721.52 L414.5,720.52 L414.5,719.52 L414.5,718.52 L414.5,717.52 L414.5,716.52 L414.5,715.52 L414.5,714.52 L414.5,713.52 L414.5,712.52 L414.5,711.52 L414.5,710.52 L414.5,709.52 L414.5,708.52 L414.5,707.52 L414.5,706.52 L414.5,705.52 L414.5,704.52 L414.5,703.52 L414.5,702.52 L414.5,701.52 L414.5,700.52 L414.5,699.52 L414.5,698.52 L414.5,697.52 L414.5,696.52 L414.5,695.52 L414.5,694.52 L414.5,693.52 L414.5,692.52 L414.5,691.52 L414.5,690.52 L414.5,689.52 L414.5,688.52 L414.5,687.52 L414.5,686.52 L414.5,685.52 L414.5,684.52 L414.5,683.52 L414.5,682.52 L414.5,681.52 L414.5,680.52 L414.5,679.52 L414.5,678.52 L414.5,677.52 L414.5,676.52 L414.5,675.52 L414.5,674.52 L414.5,673.52 L414.5,672.52 L414.5,671.52 L414.5,670.52 L414.5,669.52 L414.5,668.52 L414.5,667.52 L414.5,666.52 L414.5,665.52 L414.5,664.52 L414.5,663.52 L414.5,662.52 L414.5,661.52 L414.5,660.52 L414.5,659.52 L414.5,658.52 L414.5,657.52 L414.5,656.52 L414.5,655.52 L414.5,654.52 L414.5,653.52 L414.5,652.52 L414.5,651.52 L414.5,650.52 L414.5,649.52 L414.5,648.52 L414.5,647.52 L414.5,646.52 L414.5,645.52 L414.5,644.52 L414.5,643.52 L414.5,642.52 L414.5,641.52 L414.5,640.52 L414.5,639.52 L414.5,638.52 L414.5,637.52 L414.5,636.52 L414.5,635.52 L414.5,634.52 L414.5,633.52 L414.5,632.52 L414.5,631.52 L414.5,630.52 L414.5,629.52 L414.5,628.52 L414.5,627.52 L414.5,626.52 L414.5,625.52 L414.5,624.52 L414.5,623.52 L414.5,622.52 L414.5,621.52 L414.5,620.52 L414.5,619.52 L414.5,618.52 L414.5,617.52 L414.5,616.52 L414.5,615.52 L414.5,614.52 L414.5,613.52 L414.5,612.52 L414.5,611.52 L414.5,610.52 L414.5,609.52 L414.5,608.52 L414.5,607.52 L414.5,606.52 L414.5,605.52 L414.5,604.52 L414.5,603.52 L414.5,602.52 L414.5,601.52 L414.5,600.52 L414.5,599.52 L414.5,598.52 L414.5,597.52 L414.5,596.52 L414.5,595.52 L414.5,594.52 L414.5,593.52 L414.5,592.52 L414.5,591.52 L414.5,590.52 L414.5,589.52 L414.5,588.52 L414.5,587.52 L414.5,586.52 L414.5,585.52 L414.5,584.52 L414.5,583.52 L414.5,582.52 L414.5,581.52 L414.5,580.52 L414.5,579.52 L414.5,578.52 L414.5,577.52 L414.5,576.52 L414.5,575.52 L414.5,574.52 L414.5,573.52 L414.5,572.52 L414.5,571.52 L414.5,570.52 L414.5,569.52 L414.5,568.52 L414.5,567.52 L414.5,566.52 L414.5,565.52 L414.5,564.52 L414.5,563.52 L414.5,562.52 L414.5,561.52 L414.5,560.52 L414.5,559.52 L414.5,558.52 L414.5,557.52 L414.5,556.52 L414.5,555.52 L414.5,554.52 L414.5,553.52 L414.5,552.52 L414.5,551.52 L414.5,550.52 L414.5,549.52 L414.5,548.52 L414.5,547.52 L414.5,546.52 L414.5,545.52 L414.5,544.52 L414.5,543.52 L414.5,542.52 L414.5,541.52 L414.5,540.52 L414.5,539.52 L414.5,538.52 L414.5,537.52 L414.5,536.52 L414.5,535.52 L414.5,534.52 L414.5,533.52 L414.5,532.52 L414.5,531.52 L414.5,530.52 L414.5,529.52 L414.5,528.52 L414.5,527.52 L414.5,526.52 L414.5,525.52 L414.5,524.52 L414.5,523.52 L414.5,522.52 L414.5,521.52 L414.5,520.52 L414.5,519.52 L414.5,518.52 L414.5,517.52 L414.5,516.52 L414.5,515.52 L414.5,514.52 L414.5,513.52 L414.5,512.52 L414.5,511.52 L414.5,510.52 L414.5,509.52 L414.5,508.52 L414.5,507.52 L414.5,506.52 L414.5,505.52 L414.5,504.52 L414.5,503.52 L414.5,502.52 L414.5,501.52 L414.5,500.52 L414.5,499.52 L414.5,498.52 L414.5,497.52 L414.5,496.52 L414.5,495.52 L414.5,494.52 L414.5,493.52 L414.5,492.52 L414.5,491.52 L414.5,490.52 L414.5,489.52 L414.5,488.52 L414.5,487.52 L414.5,486.52 L414.5,485.52 L414.5,484.52 L414.5,483.52 L414.5,482.52 L414.5,481.52 L414.5,480.52 L414.5,479.52 L414.5,478.52 L414.5,477.52 L414.5,476.52 L414.5,475.52 L414.5,474.52 L414.5,473.52 L414.5,472.52 L414.5,471.52 L414.5,470.52 L414.5,469.52 L414.5,468.52 L414.5,467.52 L414.5,466.52 L414.5,465.52 L414.5,464.52 L414.5,463.52 L414.5,462.52 L414.5,461.52 L414.5,460.52 L414.5,459.52 L414.5,458.52 L414.5,457.52 L414.5,456.52 L414.5,455.52 L414.5,454.52 L414.5,453.52 L414.5,452.52 L414.5,451.52 L414.5,450.52 L414.5,449.52 L414.5,448.52 L414.5,447.52 L414.5,446.52 L414.5,445.52 L414.5,444.52 L414.5,443.52 L414.5,442.52 L414.5,441.52 L414.5,440.52 L414.5,439.52 L414.5,438.52 L414.5,437.52 L414.5,436.52 L414.5,435.52 L414.5,434.52 L414.5,433.52 L414.5,432.52 L414.5,431.52 L414.5,430.52 L414.5,429.52 L414.5,428.52 L414.5,427.52 L414.5,426.52 L414.5,425.52 L414.5,424.52 L414.5,423.52 L414.5,422.52 L414.5,421.52 L414.5,420.52 L414.5,419.52 L414.5,418.52 L414.5,417.52 L414.5,416.52 L414.5,415.52 L414.5,414.52 L414.5,413.52 L414.5,412.52 L414.5,411.52 L414.5,410.52 L414.5,409.52 L414.5,408.52 L414.5,407.52 L414.5,406.52 L414.5,405.52 L414.5,404.52 L414.5,403.52 L414.5,402.52 L414.5,401.52 L414.5,400.52 L414.5,399.52 L414.5,398.52 L414.5,397.52 L414.5,396.52 L414.5,395.52 L414.5,394.52 L414.5,393.52 L414.5,392.52 L414.5,391.52 L414.5,390.52 L414.5,389.52 L414.5,388.52 L414.5,387.52 L414.5,386.52 L414.5,385.52 L414.5,384.52 L414.5,383.52 L414.5,382.52 L414.5,381.52 L414.5,380.52 L414.5,379.52 L414.5,378.52 L414.5,377.52 L414.5,376.52 L414.5,375.52 L414.5,374.52 L414.5,373.52 L414.5,372.52 L414.5,371.52 L414.5,370.52 L414.5,369.52 L414.5,368.52 L414.5,367.52 L414.5,366.52 L414.5,365.52 L414.5,364.52 L414.5,363.52 L414.5,362.52 L414.5,361.52 L414.5,360.52 L414.5,359.52 L414.5,358.52 L414.5,357.52 L414.5,356.52 L414.5,355.52 L414.5,354.52 L414.5,353.52 L414.5,352.52 L414.5,352 L401.1,352 L401.1,352.52 L401.1,353.52 L401.1,354.52 L401.1,355.52 L401.1,356.52 L401.1,357.52 L401.1,358.52 L401.1,359.52 L401.1,360.52 L401.1,361.52 L401.1,362.52 L401.1,363.52 L401.1,364.52 L401.1,365.52 L401.1,366.52 L401.1,367.52 L401.1,368.52 L401.1,369.52 L401.1,370.52 L401.1,371.52 L401.1,372.52 L401.1,373.52 L401.1,374.52 L401.1,375.52 L401.1,376.52 L401.1,377.52 L401.1,378.52 L401.1,379.52 L401.1,380.52 L401.1,381.52 L401.1,382.52 L401.1,383.52 L401.1,384.52 L401.1,385.52 L401.1,386.52 L401.1,387.52 L401.1,388.52 L401.1,389.52 L401.1,390.52 L401.1,391.52 L401.1,392.52 L401.1,393.52 L401.1,394.52 L401.1,395.52 L401.1,396.52 L401.1,397.52 L401.1,398.52 L401.1,399.52 L401.1,400.52 L401.1,401.52 L401.1,402.52 L401.1,403.52 L401.1,404.52 L401.1,405.52 L401.1,406.52 L401.1,407.52 L401.1,408.52 L401.1,409.52 L401.1,410.52 L401.1,411.52 L401.1,412.52 L401.1,413.52 L401.1,414.52 L401.1,415.52 L401.1,416.52 L401.1,417.52 L401.1,418.52 L401.1,419.52 L401.1,420.52 L401.1,421.52 L401.1,422.52 L401.1,423.52 L401.1,424.52 L401.1,425.52 L401.1,426.52 L401.1,427.52 L401.1,428.52 L401.1,429.52 L401.1,430.52 L401.1,431.52 L401.1,432.52 L401.1,433.52 L401.1,434.52 L401.1,435.52 L401.1,436.52 L401.1,437.52 L401.1,438.52 L401.1,439.52 L401.1,440.52 L401.1,441.52 L401.1,442.52 L401.1,443.52 L401.1,444.52 L401.1,445.52 L401.1,446.52 L401.1,447.52 L401.1,448.52 L401.1,449.52 L401.1,450.52 L401.1,451.52 L401.1,452.52 L401.1,453.52 L401.1,454.52 L401.1,455.52 L401.1,456.52 L401.1,457.52 L401.1,458.52 L401.1,459.52 L401.1,460.52 L401.1,461.52 L401.1,462.52 L401.1,463.52 L401.1,464.52 L401.1,465.52 L401.1,466.52 L401.1,467.52 L401.1,468.52 L401.1,469.52 L401.1,470.52 L401.1,471.52 L401.1,472.52 L401.1,473.52 L401.1,474.52 L401.1,475.52 L401.1,476.52 L401.1,477.52 L401.1,478.52 L401.1,479.52 L401.1,480.52 L401.1,481.52 L401.1,482.52 L401.1,483.52 L401.1,484.52 L401.1,485.52 L401.1,486.52 L401.1,487.52 L401.1,488.52 L401.1,489.52 L401.1,490.52 L401.1,491.52 L401.1,492.52 L401.1,493.52 L401.1,494.52 L401.1,495.52 L401.1,496.52 L401.1,497.52 L401.1,498.52 L401.1,499.52 L401.1,500.52 L401.1,501.52 L401.1,502.52 L401.1,503.52 L401.1,504.52 L401.1,505.52 L401.1,506.52 L401.1,507.52 L401.1,508.52 L401.1,509.52 L401.1,510.52 L401.1,511.52 L401.1,512.52 L401.1,513.52 L401.1,514.52 L401.1,515.52 L401.1,516.52 L401.1,517.52 L401.1,518.52 L401.1,519.52 L401.1,520.52 L401.1,521.52 L401.1,522.52 L401.1,523.52 L401.1,524.52 L401.1,525.52 L401.1,526.52 L401.1,527.52 L401.1,528.52 L401.1,529.52 L401.1,530.52 L401.1,531.52 L401.1,532.52 L401.1,533.52 L401.1,534.52 L401.1,535.52 L401.1,536.52 L401.1,537.52 L401.1,538.52 L401.1,539.52 L401.1,540.52 L401.1,541.52 L401.1,542.52 L401.1,543.52 L401.1,544.52 L401.1,545.52 L401.1,546.52 L401.1,547.52 L401.1,548.52 L401.1,549.52 L401.1,550.52 L401.1,551.52 L401.1,552.52 L401.1,553.52 L401.1,554.52 L401.1,555.52 L401.1,556.52 L401.1,557.52 L401.1,558.52 L401.1,559.52 L401.1,560.52 L401.1,561.52 L401.1,562.52 L401.1,563.52 L401.1,564.52 L401.1,565.52 L401.1,566.52 L401.1,567.52 L401.1,568.52 L401.1,569.52 L401.1,570.52 L401.1,571.52 L401.1,572.52 L401.1,573.52 L401.1,574.52 L401.1,575.52 L401.1,576.52 L401.1,577.52 L401.1,578.52 L401.1,579.52 L401.1,580.52 L401.1,581.52 L401.1,582.52 L401.1,583.52 L401.1,584.52 L401.1,585.52 L401.1,586.52 L401.1,587.52 L401.1,588.52 L401.1,589.52 L401.1,590.52 L401.1,591.52 L401.1,592.52 L401.1,593.52 L401.1,594.52 L401.1,595.52 L401.1,596.52 L401.1,597.52 L401.1,598.52 L401.1,599.52 L401.1,600.52 L401.1,601.52 L401.1,602.52 L401.1,603.52 L401.1,604.52 L401.1,605.52 L401.1,606.52 L401.1,607.52 L401.1,608.52 L401.1,609.52 L401.1,610.52 L401.1,611.52 L401.1,612.52 L401.1,613.52 L401.1,614.52 L401.1,615.52 L401.1,616.52 L401.1,617.52 L401.1,618.52 L401.1,619.52 L401.1,620.52 L401.1,621.52 L401.1,622.52 L401.1,623.52 L401.1,624.52 L401.1,625.52 L401.1,626.52 L401.1,627.52 L401.1,628.52 L401.1,629.52 L401.1,630.52 L401.1,631.52 L401.1,632.52 L401.1,633.52 L401.1,634.52 L401.1,635.52 L401.1,636.52 L401.1,637.52 L401.1,638.52 L401.1,639.52 L401.1,640.52 L401.1,641.52 L401.1,642.52 L401.1,643.52 L401.1,644.52 L401.1,645.52 L401.1,646.52 L401.1,647.52 L401.1,648.52 L401.1,649.52 L401.1,650.52 L401.1,651.52 L401.1,652.52 L401.1,653.52 L401.1,654.52 L401.1,655.52 L401.1,656.52 L401.1,657.52 L401.1,658.52 L401.1,659.52 L401.1,660.52 L401.1,661.52 L401.1,662.52 L401.1,663.52 L401.1,664.52 L401.1,665.52 L401.1,666.52 L401.1,667.52 L401.1,668.52 L401.1,669.52 L401.1,670.52 L401.1,671.52 L401.1,672.52 L401.1,673.52 L401.1,674.52 L401.1,675.52 L401.1,676.52 L401.1,677.52 L401.1,678.52 L401.1,679.52 L401.1,680.52 L401.1,681.52 L401.1,682.52 L401.1,683.52 L401.1,684.52 L401.1,685.52 L401.1,686.52 L401.1,687.52 L401.1,688.52 L401.1,689.52 L401.1,690.52 L401.1,691.52 L401.1,692.52 L401.1,693.52 L401.1,694.52 L401.1,695.52 L401.1,696.52 L401.1,697.52 L401.1,698.52 L401.1,699.52 L401.1,700.52 L401.1,701.52 L401.1,702.52 L401.1,703.52 L401.1,704.52 L401.1,705.52 L401.1,706.52 L401.1,707.52 L401.1,708.52 L401.1,709.52 L401.1,710.52 L401.1,711.52 L401.1,712.52 L401.1,713.52 L401.1,714.52 L401.1,715.52 L401.1,716.52 L401.1,717.52 L401.1,718.52 L401.1,719.52 L401.1,720.52 L401.1,721.52 L401.1,722.52 L401.1,723.52 L401.1,724.52 L401.1,725.52 L401.1,726.52 L401.1,727.52 L401.1,728.52 L401.1,729.52 L401.1,730.52 L401.1,731.52 L401.1,732.52 L401.1,733.52 L401.1,734.52 L401.1,735.52 L401.1,736.52 L401.1,737.52 L401.1,738.52 L401.1,739.52 L401.1,740.52 L401.1,741.52 L401.1,742.52 L401.1,743.52 L401.1,744.52 L401.1,745.52 L401.1,746.52 L401.1,747.52 L401.1,748.52 L401.1,749.52 L401.1,750.52 L401.1,751.52 L401.1,752.52 L401.1,753.52 L401.1,754.52 L401.1,755.52 L401.1,756.52 L401.1,757.52 L401.1,758.52 L401.1,759.52 L401.1,760.52 L401.1,761.52 L401.1,762.52 L401.1,763.52 L401.1,764.52 L401.1,765.52 L401.1,766.52 L401.1,767.52 L401.1,768.52 L401.1,769.52 L401.1,770.52 L401.1,771.52 L401.1,772.52 L401.1,773.52 L401.1,774.52 L401.1,775.52 L401.1,776.52 L401.1,777.52 L401.1,778.52 L401.1,779.52 L401.1,780.52 L401.1,781.52 L401.1,782.52 L401.1,783.52 L401.1,784.52 L401.1,785.52 L401.1,786.52 L401.1,787.52 L401.1,788.52 L401.1,789.52 L401.1,790.52 L401.1,791.52 L401.1,792.52 L401.1,793.52 L401.1,794.52 L401.1,795.52 L401.1,796.52 L401.1,797.52 L401.1,798.52 L401.1,799.52 L401.1,800.52 L401.1,801.52 L401.1,802.52 L401.1,803.52 L401.1,804.52 L401.1,805.52 L401.1,806.52 L401.1,807.52 L401.1,808.52 L401.1,809.52 L401.1,810.52 L401.1,811.52 L401.1,812.52 L401.1,813.52 L401.1,814.52 L401.1,815.52 L401.1,816.52 L401.1,817.52 L401.1,818.52 L401.1,819.52 L401.1,820.52 L401.1,821.52 L401.1,822.52 L401.1,823.52 L401.1,824.52 L401.1,825.52 L401.1,826.52 L401.1,827.52 L401.1,828.52 L401.1,829.52 L401.1,830.52 L401.1,831.52 L401.1,832.52 L401.1,833.52 L401.1,834.52 L401.1,835.52 L401.1,836.52 L401.1,837.52 L401.1,838.52 L401.1,839.52 L401.1,840.52 L401.1,841.52 L401.1,842.52 L401.1,843.52 L401.1,844.52 L401.1,845.52 L401.1,846.52 L401.1,847.52 L401.1,848.52 L401.1,849.52 L401.1,850.54 L401.11,851.54 L401.11,852.59 L401.12,853.62 L401.14,854.62 L401.16,855.65 L401.18,856.66 L401.2,857.65 L401.22,858.65 L401.23,859.62 L401.24,860.56 L401.23,861.47 L401.22,862.37 L401.19,863.25 L401.14,864.13 L401.08,865.1 L401.02,866.14 L400.96,867.14 L400.91,868.11 L400.84,869.03 L400.77,869.91 L400.68,870.75 L400.57,871.54 L400.44,872.27 L400.36,872.6 L400.2,873.16 L399.96,873.8 L399.65,874.53 L399.42,875.01 L399.07,875.66 L398.7,876.27 L398.3,876.84 L398.12,877.07 L397.72,877.51 L397.3,877.9 L397.25,877.95 L396.78,878.26 L396.25,878.56 L395.67,878.84 L395.06,879.09 L394.43,879.31 L393.77,879.5 L393.11,879.67 L392.44,879.8 L391.78,879.9 L391.12,879.96 L390.49,879.99 L389.93,879.99 L389.39,879.95 L388.79,879.88 L387.8,879.7 L387.17,879.55 L386.5,879.37 L385.8,879.16 L385.07,878.92 L384.13,878.57 L383.4,878.28 L382.64,877.96 L381.88,877.63 L380.97,877.21 L380.21,876.83 L379.43,876.44 L378.72,876.07 L377.84,875.58 L377.19,875.2 L376.53,874.79 L375.69,874.25 L375.04,873.8 L374.37,873.33 L373.56,872.73 L372.9,872.23 L372.22,871.71 L371.45,871.08 L370.78,870.52 L370.02,869.88 L369.35,869.3 L368.69,868.71 L367.95,868.04 L367.28,867.42 L366.61,866.8 L365.89,866.11 L365.24,865.47 L364.53,864.77 L363.9,864.14 L363.28,863.5 L362.59,862.78 L361.98,862.13 L361.31,861.4 L360.72,860.74 L360.14,860.09 L359.49,859.33 L358.92,858.66 L358.29,857.89 L357.75,857.22 L357.13,856.43 L356.61,855.75 L356.1,855.08 L355.52,854.26 L355.03,853.58 L354.47,852.76 L354.01,852.07 L353.47,851.23 L353.02,850.5 L352.55,849.74 L352.04,848.88 L351.6,848.12 L351.1,847.25 L350.68,846.49 L350.27,845.74 L349.81,844.85 L349.43,844.1 L348.99,843.2 L348.64,842.45 L348.22,841.54 L347.9,840.8 L347.59,840.06 L347.23,839.13 L346.95,838.4 L346.62,837.45 L346.38,836.73 L346.08,835.77 L345.88,835.05 L345.7,834.35 L345.47,833.38 L345.33,832.67 L345.14,831.68 L345.03,830.94 L344.88,829.95 L344.8,829.18 L344.71,828.38 L344.63,827.39 L344.57,826.57 L344.51,825.57 L344.48,824.73 L344.44,823.73 L344.43,822.87 L344.42,821.98 L344.43,820.98 L344.44,820.08 L344.46,819.08 L344.48,818.17 L344.52,817.17 L344.55,816.23 L344.59,815.33 L344.65,814.34 L344.7,813.48 L344.78,812.49 L344.86,811.63 L344.96,810.63 L345.06,809.77 L345.18,808.78 L345.3,807.91 L345.42,807.03 L345.58,806.04 L345.72,805.15 L345.89,804.17 L346.05,803.27 L346.23,802.29 L346.41,801.39 L346.59,800.47 L346.79,799.49 L346.99,798.57 L347.2,797.59 L347.4,796.66 L347.62,795.69 L347.82,794.82 L348.06,793.85 L348.26,793.03 L348.52,792.07 L348.74,791.23 L349.02,790.27 L349.3,789.31 L349.56,788.45 L349.85,787.5 L350.13,786.61 L350.43,785.66 L350.72,784.75 L351.03,783.8 L351.34,782.87 L351.65,781.92 L351.96,780.97 L352.27,780.01 L352.58,779.06 L352.9,778.08 L353.21,777.13 L353.53,776.12 L353.83,775.17 L354.13,774.21 L354.44,773.18 L354.73,772.22 L355.04,771.17 L355.31,770.21 L355.58,769.25 L355.87,768.21 L356.13,767.24 L356.39,766.28 L356.66,765.27 L356.92,764.3 L357.18,763.33 L357.44,762.33 L357.69,761.36 L357.94,760.4 L358.19,759.43 L358.45,758.43 L358.69,757.46 L358.94,756.49 L359.19,755.52 L359.43,754.53 L359.68,753.56 L359.92,752.59 L360.17,751.6 L360.41,750.63 L360.65,749.66 L360.89,748.69 L361.13,747.7 L361.37,746.73 L361.6,745.76 L361.84,744.79 L362.08,743.8 L362.32,742.83 L362.55,741.86 L362.79,740.88 L363.02,739.91 L363.26,738.94 L363.49,737.97 L363.73,736.99 L363.96,736.02 L364.2,735.05 L364.43,734.07 L364.67,733.1 L364.9,732.13 L365.13,731.16 L365.37,730.18 L365.6,729.22 L365.84,728.24 L366.07,727.27 L366.31,726.3 L366.54,725.35 L366.78,724.38 L367.01,723.4 L367.25,722.46 L367.49,721.49 L367.73,720.52 L367.97,719.55 L368.21,718.59 L368.45,717.62 L368.7,716.65 L368.94,715.68 L369.18,714.72 L369.43,713.75 L369.67,712.78 L369.91,711.81 L370.16,710.83 L370.4,709.86 L370.65,708.89 L370.89,707.9 L371.13,706.93 L371.37,705.96 L371.61,704.99 L371.86,703.98 L372.09,703.01 L372.33,702.04 L372.56,701.07 L372.81,700.06 L373.03,699.08 L373.26,698.11 L373.49,697.14 L373.73,696.11 L373.95,695.14 L374.17,694.16 L374.4,693.19 L374.62,692.15 L374.84,691.18 L375.05,690.2 L375.26,689.22 L375.48,688.18 L375.69,687.2 L375.89,686.22 L376.09,685.24 L376.31,684.19 L376.5,683.21 L376.69,682.23 L376.88,681.25 L377.09,680.2 L377.27,679.21 L377.45,678.23 L377.63,677.25 L377.82,676.26 L378.01,675.22 L378.18,674.24 L378.36,673.26 L378.53,672.27 L378.71,671.29 L378.88,670.3 L379.06,669.27 L379.23,668.28 L379.4,667.29 L379.56,666.31 L379.73,665.32 L379.9,664.34 L380.07,663.3 L380.23,662.32 L380.39,661.33 L380.55,660.34 L380.71,659.36 L380.87,658.33 L381.03,657.34 L381.18,656.35 L381.34,655.36 L381.49,654.37 L381.64,653.39 L381.8,652.36 L381.95,651.37 L382.1,650.38 L382.25,649.39 L382.4,648.4 L382.54,647.41 L382.7,646.39 L382.84,645.4 L382.98,644.41 L383.12,643.42 L383.27,642.43 L383.41,641.44 L383.56,640.41 L383.69,639.42 L383.83,638.43 L383.97,637.44 L384.1,636.45 L384.24,635.46 L384.38,634.43 L384.52,633.44 L384.65,632.45 L384.78,631.46 L384.91,630.47 L385.04,629.48 L385.18,628.45 L385.31,627.46 L385.43,626.47 L385.56,625.48 L385.69,624.49 L385.82,623.49 L385.95,622.47 L386.07,621.48 L386.19,620.48 L386.31,619.49 L386.43,618.5 L386.56,617.51 L386.68,616.48 L386.8,615.49 L386.92,614.49 L387.03,613.5 L387.15,612.51 L387.27,611.51 L387.39,610.48 L387.5,609.49 L387.61,608.5 L387.72,607.5 L387.84,606.51 L387.95,605.52 L388.06,604.49 L388.17,603.49 L388.27,602.5 L388.38,601.5 L388.49,600.51 L388.59,599.51 L388.7,598.48 L388.8,597.49 L388.9,596.49 L389,595.5 L389.1,594.5 L389.2,593.51 L389.31,592.48 L389.4,591.48 L389.5,590.49 L389.59,589.49 L389.69,588.5 L389.78,587.5 L389.88,586.47 L389.97,585.47 L390.06,584.48 L390.15,583.48 L390.24,582.49 L390.33,581.49 L390.42,580.46 L390.51,579.46 L390.59,578.47 L390.68,577.47 L390.76,576.47 L390.85,575.48 L390.93,574.44 L391.01,573.45 L391.09,572.45 L391.17,571.45 L391.25,570.46 L391.33,569.46 L391.41,568.43 L391.48,567.43 L391.56,566.43 L391.63,565.44 L391.7,564.44 L391.78,563.41 L391.85,562.41 L391.92,561.41 L391.99,560.41 L392.06,559.42 L392.13,558.42 L392.2,557.38 L392.26,556.39 L392.33,555.39 L392.39,554.39 L392.45,553.39 L392.52,552.39 L392.58,551.36 L392.64,550.36 L392.7,549.36 L392.76,548.36 L392.81,547.37 L392.87,546.37 L392.93,545.33 L392.98,544.33 L393.03,543.33 L393.09,542.34 L393.14,541.34 L393.19,540.29 L393.24,539.29 L393.28,538.29 L393.33,537.29 L393.37,536.29 L393.42,535.29 L393.46,534.24 L393.5,533.24 L393.53,532.24 L393.57,531.24 L393.61,530.24 L393.64,529.19 L393.67,528.19 L393.7,527.19 L393.73,526.19 L393.76,525.19 L393.78,524.15 L393.8,523.15 L393.83,522.15 L393.85,521.15 L393.87,520.15 L393.89,519.11 L393.9,518.11 L393.92,517.11 L393.94,516.11 L393.95,515.08 L393.97,514.08 L393.98,513.08 L393.99,512.08 L394,511.08 L394.01,510.05 L394.02,509.05 L394.03,508.05 L394.04,507.05 L394.04,506.05 L394.05,505.04 L394.06,504.04 L394.06,503.04 L394.07,502.04 L394.08,501.04 L394.08,500.03 L394.09,499.03 L394.09,498.03 L394.09,497.03 L394.1,496.03 L394.1,495.03 L394.11,494.03 L394.11,493.03 L394.12,492.03 L394.12,491.03 L394.13,490.04 L394.13,489.04 L394.14,488.04 L394.15,487.04 L394.15,486.04 L394.16,485.05 L394.17,484.05 L394.18,483.05 L394.18,482.05 L394.19,481.05 L394.2,480.06 L394.21,479.06 L394.22,478.06 L394.23,477.06 L394.23,476.06 L394.24,475.06 L394.25,474.06 L394.26,473.04 L394.26,472.04 L394.27,471.04 L394.28,470.04 L394.28,469.04 L394.29,468.04 L394.3,467.03 L394.3,466.03 L394.3,465.03 L394.31,464.03 L394.31,463.03 L394.32,462.03 L394.32,461.03 L394.33,460.02 L394.33,459.02 L394.33,458.02 L394.34,457.02 L394.34,456.02 L394.34,455.02 L394.35,454.01 L394.35,453.01 L394.35,452.01 L394.35,451.01 L394.36,450.01 L394.36,449.01 L394.36,448.01 L394.36,447.01 L394.36,446.01 L394.36,445.01 L394.37,444.01 L394.37,443.01 L394.37,442.01 L394.37,441.01 L394.37,440.01 L394.37,439.01 L394.37,438.01 L394.37,437.01 L394.37,436.01 L394.37,435.01 L394.38,434.01 L394.38,433 L394.38,432 L394.38,431 L394.38,430 L394.38,429 L394.38,428 L394.38,427 L394.38,426 L394.38,425 L394.38,424 L394.38,423 L394.38,422 L394.38,421 L394.38,420 L394.38,419 L394.38,418 L394.38,417 L394.38,416 L394.38,415 L394.38,414 L394.38,413.01 L394.39,412.01 L394.39,411.01 L394.39,410.01 L394.39,409.01 L394.39,408.01 L394.39,407.01 L394.39,406.01 L394.39,405.01 L394.39,404.01 L394.4,403.01 L394.4,402.01 L394.4,401.01 L394.4,400.01 L394.4,399.01 L394.4,398.01 L394.41,397.01 L394.41,396.01 L394.41,395.01 L394.41,394.01 L394.41,393.01 L394.41,392.01 L394.42,391.01 L394.42,390.01 L394.42,389.01 L394.42,388.01 L394.42,387.01 L394.42,386.01 L394.42,385.01 L394.43,384.01 L394.43,383.01 L394.43,382.01 L394.43,381.01 L394.43,380.01 L394.43,379.01 L394.43,378.01 L394.44,377.01 L394.44,376.01 L394.44,375.01 L394.44,374.01 L394.44,373.01 L394.44,372.01 L394.44,371.01 L394.44,370.01 L394.45,369.01 L394.45,368.01 L394.45,367.01 L394.45,366.01 L394.45,365.01 L394.45,364.01 L394.45,363.01 L394.45,362.01 L394.45,361.01 L394.46,360.01 L394.46,359.01 L394.46,358.01 L394.46,357.01 L394.46,356.01 L394.46,355.01 L394.46,354.01 L394.46,353.01 L394.46,352.01 L394.46,351.01 L394.47,350.01 L394.47,349.01 L394.47,348.01 L394.47,347.01 L394.47,346.01 L394.47,345.01 L394.47,344.01 L394.47,343.01 L394.47,342.01 L394.47,341.01 L394.48,340.01 L394.48,339.01 L394.48,338.01 L394.48,337.01 L394.48,336.01 L394.48,335.01 L394.48,334.01 L394.48,333.01 L394.48,332.01 L394.49,331.01 L394.49,330.01 L394.49,329.01 L394.49,328.01 L394.49,327.01 L394.49,326.01 L394.49,325.01 L394.49,324.01 L394.49,323.01 L394.5,322.01 L394.5,321.01 L394.5,320.01 L394.5,319.01 L394.5,318.01Z" class="w"/>
<path d="M381.43,322.19 Q387.79,326.8 394.16,322.21" class="hr"/>
<path d="M381.42,329.19 Q387.78,333.8 394.15,329.21" class="hr"/>
<path d="M381.41,336.19 Q387.78,340.8 394.14,336.21" class="hr"/>
<path d="M381.41,343.19 Q387.77,347.8 394.14,343.21" class="hr"/>
<path d="M381.4,350.19 Q387.76,354.8 394.13,350.21" class="hr"/>
<path d="M381.39,357.19 Q387.75,361.8 394.12,357.21" class="hr"/>
<path d="M381.39,364.19 Q387.75,368.8 394.12,364.21" class="hr"/>
<path d="M381.38,371.19 Q387.74,375.8 394.11,371.21" class="hr"/>
<path d="M381.37,378.19 Q387.73,382.8 394.1,378.21" class="hr"/>
<path d="M381.36,385.19 Q387.72,389.8 394.09,385.21" class="hr"/>
<path d="M381.35,392.19 Q387.71,396.8 394.08,392.21" class="hr"/>
<path d="M381.34,399.19 Q387.69,403.8 394.07,399.21" class="hr"/>
<path d="M381.33,406.19 Q387.68,410.8 394.06,406.21" class="hr"/>
<path d="M381.32,413.19 Q387.68,417.8 394.05,413.21" class="hr"/>
<path d="M381.32,420.2 Q387.68,424.8 394.05,420.2" class="hr"/>
<path d="M381.31,427.2 Q387.68,431.8 394.04,427.2" class="hr"/>
<path d="M381.31,434.19 Q387.67,438.8 394.04,434.2" class="hr"/>
<path d="M381.3,441.19 Q387.66,445.8 394.03,441.21" class="hr"/>
<path d="M381.29,448.19 Q387.65,452.8 394.02,448.21" class="hr"/>
<path d="M381.28,455.18 Q387.63,459.8 394.01,455.22" class="hr"/>
<path d="M381.25,462.17 Q387.6,466.8 393.98,462.23" class="hr"/>
<path d="M381.22,469.16 Q387.55,473.8 393.95,469.24" class="hr"/>
<path d="M381.17,476.15 Q387.49,480.8 393.9,476.25" class="hr"/>
<path d="M381.11,483.15 Q387.44,487.8 393.84,483.25" class="hr"/>
<path d="M381.06,490.16 Q387.4,494.8 393.79,490.24" class="hr"/>
<path d="M381.03,497.17 Q387.37,501.8 393.76,497.23" class="hr"/>
<path d="M380.99,504.16 Q387.33,508.8 393.72,504.24" class="hr"/>
<path d="M380.93,511.12 Q387.24,515.8 393.66,511.27" class="hr"/>
<path d="M380.84,518.09 Q387.13,522.8 393.57,518.3" class="hr"/>
<path d="M380.69,525.01 Q386.92,529.79 393.42,525.38" class="hr"/>
<path d="M380.47,531.96 Q386.66,536.79 393.19,532.43" class="hr"/>
<path d="M380.18,538.9 Q386.33,543.78 392.9,539.47" class="hr"/>
<path d="M379.82,545.81 Q385.9,550.76 392.53,546.55" class="hr"/>
<path d="M379.4,552.76 Q385.46,557.75 392.11,553.57" class="hr"/>
<path d="M378.94,559.71 Q384.97,564.73 391.64,560.59" class="hr"/>
<path d="M378.44,566.66 Q384.44,571.71 391.13,567.61" class="hr"/>
<path d="M377.89,573.6 Q383.87,578.68 390.58,574.62" class="hr"/>
<path d="M377.3,580.51 Q383.23,585.65 389.98,581.66" class="hr"/>
<path d="M376.66,587.45 Q382.56,592.61 389.34,588.66" class="hr"/>
<path d="M375.98,594.38 Q381.85,599.57 388.65,595.66" class="hr"/>
<path d="M375.26,601.31 Q381.1,606.53 387.92,602.66" class="hr"/>
<path d="M374.49,608.23 Q380.31,613.48 387.14,609.65" class="hr"/>
<path d="M373.69,615.12 Q379.45,620.42 386.32,616.67" class="hr"/>
<path d="M372.83,622.03 Q378.56,627.37 385.46,623.65" class="hr"/>
<path d="M371.93,628.94 Q377.64,634.3 384.55,630.62" class="hr"/>
<path d="M371,635.84 Q376.68,641.23 383.61,637.59" class="hr"/>
<path d="M370.02,642.74 Q375.67,648.16 382.62,644.56" class="hr"/>
<path d="M369,649.63 Q374.62,655.07 381.59,651.52" class="hr"/>
<path d="M367.94,656.47 Q373.49,661.97 380.51,658.51" class="hr"/>
<path d="M366.82,663.33 Q372.33,668.87 379.37,665.46" class="hr"/>
<path d="M365.64,670.18 Q371.11,675.76 378.17,672.41" class="hr"/>
<path d="M364.39,677.02 Q369.82,682.63 376.9,679.35" class="hr"/>
<path d="M363.06,683.75 Q368.37,689.46 375.52,686.35" class="hr"/>
<path d="M361.61,690.48 Q366.82,696.27 374.02,693.31" class="hr"/>
<path d="M360.04,697.25 Q365.21,703.07 372.43,700.17" class="hr"/>
<path d="M358.4,703.99 Q363.51,709.85 370.76,707.04" class="hr"/>
<path d="M356.71,710.75 Q361.79,716.63 369.05,713.86" class="hr"/>
<path d="M355,717.56 Q360.1,723.43 367.36,720.63" class="hr"/>
<path d="M353.32,724.4 Q358.46,730.24 365.7,727.39" class="hr"/>
<path d="M351.68,731.21 Q356.82,737.05 364.06,734.19" class="hr"/>
<path d="M350.04,738 Q355.17,743.85 362.41,741" class="hr"/>
<path d="M348.39,744.79 Q353.51,750.64 360.75,747.82" class="hr"/>
<path d="M346.71,751.55 Q351.8,757.43 359.06,754.64" class="hr"/>
<path d="M344.99,758.29 Q350.04,764.19 357.32,761.47" class="hr"/>
<path d="M343.21,764.98 Q348.19,770.93 355.49,768.31" class="hr"/>
<path d="M341.3,771.46 Q346.06,777.55 353.45,775.26" class="hr"/>
<path d="M339.17,778.03 Q343.86,784.17 351.27,782" class="hr"/>
<path d="M337,784.83 Q341.81,790.89 349.18,788.55" class="hr"/>
<path d="M335.08,791.95 Q340.21,797.79 347.45,794.94" class="hr"/>
<path d="M333.55,799.06 Q338.92,804.71 346.04,801.52" class="hr"/>
<path d="M332.33,806.32 Q338.01,811.7 344.94,808.06" class="hr"/>
<path d="M331.59,813.79 Q337.69,818.74 344.3,814.52" class="hr"/>
<path d="M331.36,821.11 Q337.7,825.75 344.09,821.18" class="hr"/>
<path d="M331.62,828.67 Q338.35,832.71 344.31,827.61" class="hr"/>
<path d="M332.78,836.47 Q339.98,839.43 345.19,833.65" class="hr"/>
<path d="M335.12,844.05 Q342.61,845.74 346.99,839.44" class="hr"/>
<path d="M338.3,851.03 Q345.83,851.74 349.61,845.18" class="hr"/>
<path d="M342.01,857.53 Q349.48,857.52 352.84,850.84" class="hr"/>
<path d="M346.31,863.79 Q353.6,862.88 356.46,856.11" class="hr"/>
<path d="M351.09,869.57 Q358.13,867.91 360.6,861.11" class="hr"/>
<path d="M356.23,874.94 Q362.99,872.65 365.15,865.85" class="hr"/>
<path d="M361.74,879.99 Q368.11,877.04 369.95,870.26" class="hr"/>
<path d="M367.75,884.64 Q373.53,880.91 375.01,874.19" class="hr"/>
<path d="M374.61,888.64 Q379.25,883.83 380.24,877.22" class="hr"/>
<path d="M381.9,891.63 Q385.26,886.03 385.88,879.54" class="hr"/>
<path d="M390.85,893.06 Q390.71,886.69 390.69,880.33" class="hr"/>
<path d="M399.82,891.26 Q396.09,885.86 395.37,879.33" class="hr"/>
<path d="M408.27,885.29 Q401.04,884.18 398.28,877.4" class="hr"/>
<path d="M412.58,877.35 Q405.13,879.3 400.58,873.08" class="hr"/>
<path d="M413.96,868.7 Q407.33,872.89 401.25,867.93" class="hr"/>
<path d="M414.3,861.36 Q407.9,865.92 401.57,861.28" class="hr"/>
<path d="M414.2,854.23 Q407.9,858.92 401.47,854.42" class="hr"/>
<path d="M414.17,847.32 Q407.8,851.92 401.44,847.32" class="hr"/>
<path d="M414.17,840.32 Q407.8,844.92 401.44,840.32" class="hr"/>
<path d="M414.17,833.32 Q407.8,837.92 401.44,833.32" class="hr"/>
<path d="M414.17,826.32 Q407.8,830.92 401.44,826.32" class="hr"/>
<path d="M414.17,819.32 Q407.8,823.92 401.44,819.32" class="hr"/>
<path d="M414.17,812.32 Q407.8,816.92 401.44,812.32" class="hr"/>
<path d="M414.17,805.32 Q407.8,809.92 401.44,805.32" class="hr"/>
<path d="M414.17,798.32 Q407.8,802.92 401.44,798.32" class="hr"/>
<path d="M414.17,791.32 Q407.8,795.92 401.44,791.32" class="hr"/>
<path d="M414.17,784.32 Q407.8,788.92 401.44,784.32" class="hr"/>
<path d="M414.17,777.32 Q407.8,781.92 401.44,777.32" class="hr"/>
<path d="M414.17,770.32 Q407.8,774.92 401.44,770.32" class="hr"/>
<path d="M414.17,763.32 Q407.8,767.92 401.44,763.32" class="hr"/>
<path d="M414.17,756.32 Q407.8,760.92 401.44,756.32" class="hr"/>
<path d="M414.17,749.32 Q407.8,753.92 401.44,749.32" class="hr"/>
<path d="M414.17,742.32 Q407.8,746.92 401.44,742.32" class="hr"/>
<path d="M414.17,735.32 Q407.8,739.92 401.44,735.32" class="hr"/>
<path d="M414.17,728.32 Q407.8,732.92 401.44,728.32" class="hr"/>
<path d="M414.17,721.32 Q407.8,725.92 401.44,721.32" class="hr"/>
<path d="M414.17,714.32 Q407.8,718.92 401.44,714.32" class="hr"/>
<path d="M414.17,707.32 Q407.8,711.92 401.44,707.32" class="hr"/>
<path d="M414.17,700.32 Q407.8,704.92 401.44,700.32" class="hr"/>
<path d="M414.17,693.32 Q407.8,697.92 401.44,693.32" class="hr"/>
<path d="M414.17,686.32 Q407.8,690.92 401.44,686.32" class="hr"/>
<path d="M414.17,679.32 Q407.8,683.92 401.44,679.32" class="hr"/>
<path d="M414.17,672.32 Q407.8,676.92 401.44,672.32" class="hr"/>
<path d="M414.17,665.32 Q407.8,669.92 401.44,665.32" class="hr"/>
<path d="M414.17,658.32 Q407.8,662.92 401.44,658.32" class="hr"/>
<path d="M414.17,651.32 Q407.8,655.92 401.44,651.32" class="hr"/>
<path d="M414.17,644.32 Q407.8,648.92 401.44,644.32" class="hr"/>
<path d="M414.17,637.32 Q407.8,641.92 401.44,637.32" class="hr"/>
<path d="M414.17,630.32 Q407.8,634.92 401.44,630.32" class="hr"/>
<path d="M414.17,623.32 Q407.8,627.92 401.44,623.32" class="hr"/>
<path d="M414.17,616.32 Q407.8,620.92 401.44,616.32" class="hr"/>
<path d="M414.17,609.32 Q407.8,613.92 401.44,609.32" class="hr"/>
<path d="M414.17,602.32 Q407.8,606.92 401.44,602.32" class="hr"/>
<path d="M414.17,595.32 Q407.8,599.92 401.44,595.32" class="hr"/>
<path d="M414.17,588.32 Q407.8,592.92 401.44,588.32" class="hr"/>
<path d="M414.17,581.32 Q407.8,585.92 401.44,581.32" class="hr"/>
<path d="M414.17,574.32 Q407.8,578.92 401.44,574.32" class="hr"/>
<path d="M414.17,567.32 Q407.8,571.92 401.44,567.32" class="hr"/>
<path d="M414.17,560.32 Q407.8,564.92 401.44,560.32" class="hr"/>
<path d="M414.17,553.32 Q407.8,557.92 401.44,553.32" class="hr"/>
<path d="M414.17,546.32 Q407.8,550.92 401.44,546.32" class="hr"/>
<path d="M414.17,539.32 Q407.8,543.92 401.44,539.32" class="hr"/>
<path d="M414.17,532.32 Q407.8,536.92 401.44,532.32" class="hr"/>
<path d="M414.17,525.32 Q407.8,529.92 401.44,525.32" class="hr"/>
<path d="M414.17,518.32 Q407.8,522.92 401.44,518.32" class="hr"/>
<path d="M414.17,511.32 Q407.8,515.92 401.44,511.32" class="hr"/>
<path d="M414.17,504.32 Q407.8,508.92 401.44,504.32" class="hr"/>
<path d="M414.17,497.32 Q407.8,501.92 401.44,497.32" class="hr"/>
<path d="M414.17,490.32 Q407.8,494.92 401.44,490.32" class="hr"/>
<path d="M414.17,483.32 Q407.8,487.92 401.44,483.32" class="hr"/>
<path d="M414.17,476.32 Q407.8,480.92 401.44,476.32" class="hr"/>
<path d="M414.17,469.32 Q407.8,473.92 401.44,469.32" class="hr"/>
<path d="M414.17,462.32 Q407.8,466.92 401.44,462.32" class="hr"/>
<path d="M414.17,455.32 Q407.8,459.92 401.44,455.32" class="hr"/>
<path d="M414.17,448.32 Q407.8,452.92 401.44,448.32" class="hr"/>
<path d="M414.17,441.32 Q407.8,445.92 401.44,441.32" class="hr"/>
<path d="M414.17,434.32 Q407.8,438.92 401.44,434.32" class="hr"/>
<path d="M414.17,427.32 Q407.8,431.92 401.44,427.32" class="hr"/>
<path d="M414.17,420.32 Q407.8,424.92 401.44,420.32" class="hr"/>
<path d="M414.17,413.32 Q407.8,417.92 401.44,413.32" class="hr"/>
<path d="M414.17,406.32 Q407.8,410.92 401.44,406.32" class="hr"/>
<path d="M414.17,399.32 Q407.8,403.92 401.44,399.32" class="hr"/>
<path d="M414.17,392.32 Q407.8,396.92 401.44,392.32" class="hr"/>
<path d="M414.17,385.32 Q407.8,389.92 401.44,385.32" class="hr"/>
<path d="M414.17,378.32 Q407.8,382.92 401.44,378.32" class="hr"/>
<path d="M414.17,371.32 Q407.8,375.92 401.44,371.32" class="hr"/>
<path d="M414.17,364.32 Q407.8,368.92 401.44,364.32" class="hr"/>
<path d="M414.17,357.32 Q407.8,361.92 401.44,357.32" class="hr"/>
<path d="M381.1,317.99 L381.1,318.99 L381.1,319.99 L381.1,320.99 L381.1,321.99 L381.09,322.99 L381.09,323.99 L381.09,324.99 L381.09,325.99 L381.09,326.99 L381.09,327.99 L381.09,328.99 L381.09,329.99 L381.09,330.99 L381.08,331.99 L381.08,332.99 L381.08,333.99 L381.08,334.99 L381.08,335.99 L381.08,336.99 L381.08,337.99 L381.08,338.99 L381.08,339.99 L381.07,340.99 L381.07,341.99 L381.07,342.99 L381.07,343.99 L381.07,344.99 L381.07,345.99 L381.07,346.99 L381.07,347.99 L381.07,348.99 L381.07,349.99 L381.06,350.99 L381.06,351.99 L381.06,352.99 L381.06,353.99 L381.06,354.99 L381.06,355.99 L381.06,356.99 L381.06,357.99 L381.06,358.99 L381.06,359.99 L381.05,360.99 L381.05,361.99 L381.05,362.99 L381.05,363.99 L381.05,364.99 L381.05,365.99 L381.05,366.99 L381.05,367.99 L381.05,368.99 L381.04,369.99 L381.04,370.99 L381.04,371.99 L381.04,372.99 L381.04,373.99 L381.04,374.99 L381.04,375.99 L381.04,376.99 L381.03,377.99 L381.03,378.99 L381.03,379.99 L381.03,380.99 L381.03,381.99 L381.03,382.99 L381.03,383.99 L381.02,384.99 L381.02,385.99 L381.02,386.99 L381.02,387.99 L381.02,388.99 L381.02,389.99 L381.02,390.99 L381.01,391.99 L381.01,392.99 L381.01,393.99 L381.01,394.99 L381.01,395.99 L381.01,396.99 L381,397.99 L381,398.99 L381,399.99 L381,400.99 L381,401.99 L381,402.99 L380.99,403.99 L380.99,404.99 L380.99,405.99 L380.99,406.99 L380.99,407.99 L380.99,408.99 L380.99,409.99 L380.99,410.99 L380.99,411.99 L380.98,412.99 L380.98,414 L380.98,415 L380.98,416 L380.98,417 L380.98,418 L380.98,419 L380.98,420 L380.98,421 L380.98,422 L380.98,423 L380.98,424 L380.98,425 L380.98,426 L380.98,427 L380.98,428 L380.98,429 L380.98,430 L380.98,431 L380.98,432 L380.98,433 L380.98,433.99 L380.97,434.99 L380.97,435.99 L380.97,436.99 L380.97,437.99 L380.97,438.99 L380.97,439.99 L380.97,440.99 L380.97,441.99 L380.97,442.99 L380.97,443.99 L380.96,444.99 L380.96,445.99 L380.96,446.99 L380.96,447.99 L380.96,448.99 L380.96,449.99 L380.95,450.99 L380.95,451.99 L380.95,452.99 L380.95,453.99 L380.94,454.98 L380.94,455.98 L380.94,456.98 L380.93,457.98 L380.93,458.98 L380.93,459.98 L380.92,460.97 L380.92,461.97 L380.91,462.97 L380.91,463.97 L380.9,464.97 L380.9,465.97 L380.9,466.97 L380.89,467.96 L380.88,468.96 L380.88,469.96 L380.87,470.96 L380.86,471.96 L380.86,472.96 L380.85,473.94 L380.84,474.94 L380.83,475.94 L380.83,476.94 L380.82,477.94 L380.81,478.94 L380.8,479.94 L380.79,480.94 L380.78,481.94 L380.78,482.94 L380.77,483.94 L380.76,484.94 L380.75,485.96 L380.75,486.96 L380.74,487.96 L380.73,488.96 L380.73,489.96 L380.72,490.97 L380.72,491.97 L380.71,492.97 L380.71,493.97 L380.7,494.97 L380.7,495.97 L380.7,496.97 L380.69,497.97 L380.69,498.97 L380.68,499.97 L380.68,500.96 L380.67,501.96 L380.66,502.96 L380.66,503.96 L380.65,504.96 L380.65,505.94 L380.64,506.94 L380.63,507.94 L380.62,508.94 L380.61,509.94 L380.6,510.92 L380.59,511.92 L380.58,512.92 L380.57,513.92 L380.55,514.92 L380.54,515.89 L380.52,516.89 L380.51,517.89 L380.49,518.89 L380.47,519.85 L380.45,520.85 L380.43,521.85 L380.41,522.85 L380.38,523.85 L380.36,524.8 L380.33,525.8 L380.3,526.8 L380.27,527.8 L380.25,528.8 L380.22,529.75 L380.18,530.75 L380.14,531.75 L380.11,532.75 L380.07,533.74 L380.03,534.69 L379.99,535.69 L379.94,536.69 L379.9,537.68 L379.85,538.68 L379.81,539.68 L379.76,540.63 L379.7,541.63 L379.65,542.63 L379.6,543.63 L379.55,544.63 L379.49,545.59 L379.44,546.59 L379.38,547.58 L379.32,548.58 L379.26,549.58 L379.2,550.58 L379.14,551.54 L379.08,552.54 L379.02,553.54 L378.95,554.53 L378.89,555.53 L378.83,556.53 L378.76,557.49 L378.69,558.49 L378.62,559.49 L378.55,560.48 L378.48,561.48 L378.41,562.48 L378.34,563.44 L378.27,564.44 L378.19,565.43 L378.12,566.43 L378.04,567.43 L377.97,568.39 L377.89,569.39 L377.81,570.38 L377.73,571.38 L377.65,572.38 L377.57,573.38 L377.49,574.34 L377.41,575.33 L377.32,576.33 L377.24,577.33 L377.15,578.32 L377.07,579.32 L376.99,580.28 L376.9,581.28 L376.8,582.27 L376.71,583.27 L376.62,584.26 L376.53,585.26 L376.45,586.22 L376.35,587.21 L376.25,588.21 L376.16,589.21 L376.06,590.2 L375.97,591.2 L375.87,592.16 L375.77,593.15 L375.67,594.15 L375.57,595.14 L375.47,596.14 L375.37,597.13 L375.27,598.09 L375.16,599.08 L375.06,600.08 L374.95,601.07 L374.84,602.07 L374.74,603.06 L374.63,604.02 L374.52,605.01 L374.41,606.01 L374.3,607 L374.18,607.99 L374.07,608.99 L373.96,609.94 L373.84,610.94 L373.73,611.93 L373.61,612.92 L373.49,613.92 L373.37,614.91 L373.26,615.87 L373.13,616.86 L373.01,617.85 L372.89,618.85 L372.77,619.84 L372.65,620.83 L372.52,621.79 L372.4,622.78 L372.27,623.77 L372.14,624.77 L372.02,625.76 L371.89,626.75 L371.76,627.71 L371.63,628.7 L371.5,629.69 L371.36,630.68 L371.23,631.67 L371.1,632.66 L370.97,633.62 L370.83,634.61 L370.69,635.6 L370.56,636.59 L370.42,637.58 L370.28,638.57 L370.15,639.53 L370,640.52 L369.86,641.51 L369.72,642.5 L369.58,643.49 L369.43,644.48 L369.29,645.43 L369.14,646.42 L369,647.4 L368.85,648.39 L368.7,649.38 L368.55,650.37 L368.4,651.32 L368.25,652.31 L368.1,653.3 L367.94,654.28 L367.79,655.27 L367.63,656.26 L367.48,657.21 L367.32,658.19 L367.16,659.18 L367,660.17 L366.84,661.15 L366.69,662.09 L366.52,663.08 L366.35,664.07 L366.19,665.05 L366.02,666.04 L365.85,667.02 L365.69,667.96 L365.52,668.94 L365.34,669.93 L365.17,670.91 L364.99,671.9 L364.82,672.88 L364.64,673.81 L364.46,674.79 L364.28,675.78 L364.1,676.76 L363.91,677.74 L363.74,678.66 L363.54,679.64 L363.35,680.62 L363.16,681.6 L362.98,682.51 L362.77,683.49 L362.57,684.47 L362.36,685.45 L362.17,686.36 L361.96,687.34 L361.75,688.31 L361.53,689.29 L361.33,690.21 L361.11,691.19 L360.89,692.16 L360.66,693.14 L360.45,694.06 L360.22,695.03 L359.99,696.01 L359.76,696.98 L359.54,697.91 L359.31,698.89 L359.07,699.86 L358.83,700.83 L358.6,701.77 L358.36,702.74 L358.12,703.71 L357.88,704.68 L357.65,705.63 L357.4,706.6 L357.16,707.57 L356.92,708.54 L356.68,709.51 L356.43,710.48 L356.19,711.45 L355.94,712.42 L355.7,713.39 L355.46,714.36 L355.21,715.33 L354.97,716.31 L354.73,717.28 L354.48,718.25 L354.24,719.22 L354,720.22 L353.76,721.19 L353.52,722.16 L353.28,723.15 L353.05,724.13 L352.81,725.1 L352.58,726.07 L352.34,727.05 L352.11,728.02 L351.87,728.99 L351.64,729.96 L351.4,730.93 L351.17,731.91 L350.94,732.88 L350.7,733.85 L350.47,734.82 L350.23,735.79 L350,736.76 L349.76,737.74 L349.53,738.7 L349.29,739.67 L349.06,740.64 L348.82,741.6 L348.59,742.58 L348.35,743.55 L348.11,744.52 L347.88,745.47 L347.64,746.44 L347.4,747.42 L347.16,748.39 L346.92,749.34 L346.68,750.31 L346.43,751.28 L346.2,752.22 L345.95,753.19 L345.71,754.16 L345.46,755.13 L345.22,756.07 L344.97,757.04 L344.72,758.01 L344.47,758.98 L344.22,759.91 L343.97,760.87 L343.71,761.84 L343.46,762.77 L343.2,763.73 L342.94,764.7 L342.69,765.58 L342.42,766.54 L342.15,767.51 L341.89,768.37 L341.6,769.33 L341.34,770.21 L341.04,771.17 L340.74,772.12 L340.45,773.02 L340.15,773.97 L339.85,774.89 L339.54,775.84 L339.23,776.79 L338.92,777.74 L338.6,778.69 L338.29,779.66 L337.98,780.61 L337.66,781.6 L337.36,782.56 L337.03,783.58 L336.74,784.54 L336.42,785.6 L336.14,786.56 L335.87,787.52 L335.57,788.61 L335.31,789.58 L335.03,790.7 L334.8,791.68 L334.55,792.76 L334.33,793.73 L334.1,794.76 L333.89,795.73 L333.67,796.77 L333.47,797.75 L333.26,798.79 L333.06,799.85 L332.87,800.84 L332.68,801.91 L332.51,802.9 L332.34,803.98 L332.18,804.97 L332.02,806.07 L331.87,807.18 L331.75,808.18 L331.62,809.3 L331.53,810.29 L331.42,811.43 L331.34,812.43 L331.27,813.57 L331.21,814.57 L331.17,815.67 L331.12,816.73 L331.09,817.73 L331.06,818.81 L331.04,819.81 L331.03,820.91 L331.02,821.91 L331.03,823.03 L331.05,824.17 L331.08,825.17 L331.13,826.33 L331.19,827.32 L331.27,828.5 L331.36,829.5 L331.48,830.69 L331.62,831.9 L331.77,832.89 L331.97,834.13 L332.15,835.11 L332.41,836.35 L332.63,837.33 L332.95,838.56 L333.29,839.77 L333.59,840.72 L333.98,841.9 L334.31,842.84 L334.74,843.98 L335.1,844.91 L335.56,846.02 L336.03,847.11 L336.45,848.02 L336.95,849.08 L337.39,849.98 L337.91,851.01 L338.37,851.9 L338.92,852.9 L339.46,853.89 L339.96,854.76 L340.52,855.73 L341.04,856.59 L341.62,857.54 L342.22,858.51 L342.76,859.35 L343.41,860.32 L343.97,861.15 L344.64,862.1 L345.23,862.91 L345.92,863.83 L346.61,864.74 L347.23,865.53 L347.95,866.41 L348.58,867.18 L349.31,868.05 L349.96,868.81 L350.71,869.65 L351.45,870.48 L352.13,871.22 L352.89,872.03 L353.58,872.75 L354.36,873.55 L355.14,874.34 L355.85,875.04 L356.64,875.8 L357.36,876.49 L358.15,877.23 L358.96,877.97 L359.7,878.64 L360.53,879.38 L361.37,880.12 L362.13,880.76 L363.01,881.49 L363.78,882.12 L364.69,882.82 L365.62,883.53 L366.42,884.12 L367.39,884.8 L368.38,885.48 L369.22,886.02 L370.26,886.67 L371.34,887.3 L372.21,887.78 L373.27,888.34 L374.28,888.85 L375.31,889.35 L376.22,889.77 L377.28,890.24 L378.37,890.7 L379.5,891.15 L380.44,891.49 L381.61,891.88 L382.82,892.25 L384.08,892.59 L385.39,892.89 L386.38,893.07 L387.76,893.25 L389.21,893.37 L390.65,893.39 L392.01,893.33 L393.35,893.21 L394.66,893.02 L395.96,892.76 L397.23,892.45 L398.5,892.08 L399.75,891.64 L400.99,891.13 L402.22,890.55 L403.44,889.89 L404.65,889.12 L406.17,887.94 L407.22,886.96 L408.17,885.94 L409.23,884.6 L409.97,883.51 L410.64,882.42 L411.25,881.31 L411.88,879.99 L412.36,878.89 L412.82,877.65 L413.24,876.3 L413.62,874.68 L413.84,873.44 L414,872.25 L414.12,871.1 L414.21,869.99 L414.28,868.92 L414.34,867.88 L414.4,866.89 L414.45,865.94 L414.52,864.91 L414.57,863.79 L414.61,862.67 L414.63,861.57 L414.64,860.48 L414.63,859.42 L414.61,858.39 L414.59,857.39 L414.57,856.38 L414.55,855.39 L414.54,854.42 L414.52,853.42 L414.51,852.46 L414.5,851.5 L414.5,850.5 L414.5,849.52 L414.5,848.52 L414.5,847.52 L414.5,846.52 L414.5,845.52 L414.5,844.52 L414.5,843.52 L414.5,842.52 L414.5,841.52 L414.5,840.52 L414.5,839.52 L414.5,838.52 L414.5,837.52 L414.5,836.52 L414.5,835.52 L414.5,834.52 L414.5,833.52 L414.5,832.52 L414.5,831.52 L414.5,830.52 L414.5,829.52 L414.5,828.52 L414.5,827.52 L414.5,826.52 L414.5,825.52 L414.5,824.52 L414.5,823.52 L414.5,822.52 L414.5,821.52 L414.5,820.52 L414.5,819.52 L414.5,818.52 L414.5,817.52 L414.5,816.52 L414.5,815.52 L414.5,814.52 L414.5,813.52 L414.5,812.52 L414.5,811.52 L414.5,810.52 L414.5,809.52 L414.5,808.52 L414.5,807.52 L414.5,806.52 L414.5,805.52 L414.5,804.52 L414.5,803.52 L414.5,802.52 L414.5,801.52 L414.5,800.52 L414.5,799.52 L414.5,798.52 L414.5,797.52 L414.5,796.52 L414.5,795.52 L414.5,794.52 L414.5,793.52 L414.5,792.52 L414.5,791.52 L414.5,790.52 L414.5,789.52 L414.5,788.52 L414.5,787.52 L414.5,786.52 L414.5,785.52 L414.5,784.52 L414.5,783.52 L414.5,782.52 L414.5,781.52 L414.5,780.52 L414.5,779.52 L414.5,778.52 L414.5,777.52 L414.5,776.52 L414.5,775.52 L414.5,774.52 L414.5,773.52 L414.5,772.52 L414.5,771.52 L414.5,770.52 L414.5,769.52 L414.5,768.52 L414.5,767.52 L414.5,766.52 L414.5,765.52 L414.5,764.52 L414.5,763.52 L414.5,762.52 L414.5,761.52 L414.5,760.52 L414.5,759.52 L414.5,758.52 L414.5,757.52 L414.5,756.52 L414.5,755.52 L414.5,754.52 L414.5,753.52 L414.5,752.52 L414.5,751.52 L414.5,750.52 L414.5,749.52 L414.5,748.52 L414.5,747.52 L414.5,746.52 L414.5,745.52 L414.5,744.52 L414.5,743.52 L414.5,742.52 L414.5,741.52 L414.5,740.52 L414.5,739.52 L414.5,738.52 L414.5,737.52 L414.5,736.52 L414.5,735.52 L414.5,734.52 L414.5,733.52 L414.5,732.52 L414.5,731.52 L414.5,730.52 L414.5,729.52 L414.5,728.52 L414.5,727.52 L414.5,726.52 L414.5,725.52 L414.5,724.52 L414.5,723.52 L414.5,722.52 L414.5,721.52 L414.5,720.52 L414.5,719.52 L414.5,718.52 L414.5,717.52 L414.5,716.52 L414.5,715.52 L414.5,714.52 L414.5,713.52 L414.5,712.52 L414.5,711.52 L414.5,710.52 L414.5,709.52 L414.5,708.52 L414.5,707.52 L414.5,706.52 L414.5,705.52 L414.5,704.52 L414.5,703.52 L414.5,702.52 L414.5,701.52 L414.5,700.52 L414.5,699.52 L414.5,698.52 L414.5,697.52 L414.5,696.52 L414.5,695.52 L414.5,694.52 L414.5,693.52 L414.5,692.52 L414.5,691.52 L414.5,690.52 L414.5,689.52 L414.5,688.52 L414.5,687.52 L414.5,686.52 L414.5,685.52 L414.5,684.52 L414.5,683.52 L414.5,682.52 L414.5,681.52 L414.5,680.52 L414.5,679.52 L414.5,678.52 L414.5,677.52 L414.5,676.52 L414.5,675.52 L414.5,674.52 L414.5,673.52 L414.5,672.52 L414.5,671.52 L414.5,670.52 L414.5,669.52 L414.5,668.52 L414.5,667.52 L414.5,666.52 L414.5,665.52 L414.5,664.52 L414.5,663.52 L414.5,662.52 L414.5,661.52 L414.5,660.52 L414.5,659.52 L414.5,658.52 L414.5,657.52 L414.5,656.52 L414.5,655.52 L414.5,654.52 L414.5,653.52 L414.5,652.52 L414.5,651.52 L414.5,650.52 L414.5,649.52 L414.5,648.52 L414.5,647.52 L414.5,646.52 L414.5,645.52 L414.5,644.52 L414.5,643.52 L414.5,642.52 L414.5,641.52 L414.5,640.52 L414.5,639.52 L414.5,638.52 L414.5,637.52 L414.5,636.52 L414.5,635.52 L414.5,634.52 L414.5,633.52 L414.5,632.52 L414.5,631.52 L414.5,630.52 L414.5,629.52 L414.5,628.52 L414.5,627.52 L414.5,626.52 L414.5,625.52 L414.5,624.52 L414.5,623.52 L414.5,622.52 L414.5,621.52 L414.5,620.52 L414.5,619.52 L414.5,618.52 L414.5,617.52 L414.5,616.52 L414.5,615.52 L414.5,614.52 L414.5,613.52 L414.5,612.52 L414.5,611.52 L414.5,610.52 L414.5,609.52 L414.5,608.52 L414.5,607.52 L414.5,606.52 L414.5,605.52 L414.5,604.52 L414.5,603.52 L414.5,602.52 L414.5,601.52 L414.5,600.52 L414.5,599.52 L414.5,598.52 L414.5,597.52 L414.5,596.52 L414.5,595.52 L414.5,594.52 L414.5,593.52 L414.5,592.52 L414.5,591.52 L414.5,590.52 L414.5,589.52 L414.5,588.52 L414.5,587.52 L414.5,586.52 L414.5,585.52 L414.5,584.52 L414.5,583.52 L414.5,582.52 L414.5,581.52 L414.5,580.52 L414.5,579.52 L414.5,578.52 L414.5,577.52 L414.5,576.52 L414.5,575.52 L414.5,574.52 L414.5,573.52 L414.5,572.52 L414.5,571.52 L414.5,570.52 L414.5,569.52 L414.5,568.52 L414.5,567.52 L414.5,566.52 L414.5,565.52 L414.5,564.52 L414.5,563.52 L414.5,562.52 L414.5,561.52 L414.5,560.52 L414.5,559.52 L414.5,558.52 L414.5,557.52 L414.5,556.52 L414.5,555.52 L414.5,554.52 L414.5,553.52 L414.5,552.52 L414.5,551.52 L414.5,550.52 L414.5,549.52 L414.5,548.52 L414.5,547.52 L414.5,546.52 L414.5,545.52 L414.5,544.52 L414.5,543.52 L414.5,542.52 L414.5,541.52 L414.5,540.52 L414.5,539.52 L414.5,538.52 L414.5,537.52 L414.5,536.52 L414.5,535.52 L414.5,534.52 L414.5,533.52 L414.5,532.52 L414.5,531.52 L414.5,530.52 L414.5,529.52 L414.5,528.52 L414.5,527.52 L414.5,526.52 L414.5,525.52 L414.5,524.52 L414.5,523.52 L414.5,522.52 L414.5,521.52 L414.5,520.52 L414.5,519.52 L414.5,518.52 L414.5,517.52 L414.5,516.52 L414.5,515.52 L414.5,514.52 L414.5,513.52 L414.5,512.52 L414.5,511.52 L414.5,510.52 L414.5,509.52 L414.5,508.52 L414.5,507.52 L414.5,506.52 L414.5,505.52 L414.5,504.52 L414.5,503.52 L414.5,502.52 L414.5,501.52 L414.5,500.52 L414.5,499.52 L414.5,498.52 L414.5,497.52 L414.5,496.52 L414.5,495.52 L414.5,494.52 L414.5,493.52 L414.5,492.52 L414.5,491.52 L414.5,490.52 L414.5,489.52 L414.5,488.52 L414.5,487.52 L414.5,486.52 L414.5,485.52 L414.5,484.52 L414.5,483.52 L414.5,482.52 L414.5,481.52 L414.5,480.52 L414.5,479.52 L414.5,478.52 L414.5,477.52 L414.5,476.52 L414.5,475.52 L414.5,474.52 L414.5,473.52 L414.5,472.52 L414.5,471.52 L414.5,470.52 L414.5,469.52 L414.5,468.52 L414.5,467.52 L414.5,466.52 L414.5,465.52 L414.5,464.52 L414.5,463.52 L414.5,462.52 L414.5,461.52 L414.5,460.52 L414.5,459.52 L414.5,458.52 L414.5,457.52 L414.5,456.52 L414.5,455.52 L414.5,454.52 L414.5,453.52 L414.5,452.52 L414.5,451.52 L414.5,450.52 L414.5,449.52 L414.5,448.52 L414.5,447.52 L414.5,446.52 L414.5,445.52 L414.5,444.52 L414.5,443.52 L414.5,442.52 L414.5,441.52 L414.5,440.52 L414.5,439.52 L414.5,438.52 L414.5,437.52 L414.5,436.52 L414.5,435.52 L414.5,434.52 L414.5,433.52 L414.5,432.52 L414.5,431.52 L414.5,430.52 L414.5,429.52 L414.5,428.52 L414.5,427.52 L414.5,426.52 L414.5,425.52 L414.5,424.52 L414.5,423.52 L414.5,422.52 L414.5,421.52 L414.5,420.52 L414.5,419.52 L414.5,418.52 L414.5,417.52 L414.5,416.52 L414.5,415.52 L414.5,414.52 L414.5,413.52 L414.5,412.52 L414.5,411.52 L414.5,410.52 L414.5,409.52 L414.5,408.52 L414.5,407.52 L414.5,406.52 L414.5,405.52 L414.5,404.52 L414.5,403.52 L414.5,402.52 L414.5,401.52 L414.5,400.52 L414.5,399.52 L414.5,398.52 L414.5,397.52 L414.5,396.52 L414.5,395.52 L414.5,394.52 L414.5,393.52 L414.5,392.52 L414.5,391.52 L414.5,390.52 L414.5,389.52 L414.5,388.52 L414.5,387.52 L414.5,386.52 L414.5,385.52 L414.5,384.52 L414.5,383.52 L414.5,382.52 L414.5,381.52 L414.5,380.52 L414.5,379.52 L414.5,378.52 L414.5,377.52 L414.5,376.52 L414.5,375.52 L414.5,374.52 L414.5,373.52 L414.5,372.52 L414.5,371.52 L414.5,370.52 L414.5,369.52 L414.5,368.52 L414.5,367.52 L414.5,366.52 L414.5,365.52 L414.5,364.52 L414.5,363.52 L414.5,362.52 L414.5,361.52 L414.5,360.52 L414.5,359.52 L414.5,358.52 L414.5,357.52 L414.5,356.52 L414.5,355.52 L414.5,354.52 L414.5,353.52 L414.5,352.52 L414.5,352" class="he"/>
<path d="M394.5,318.01 L394.5,319.01 L394.5,320.01 L394.5,321.01 L394.5,322.01 L394.49,323.01 L394.49,324.01 L394.49,325.01 L394.49,326.01 L394.49,327.01 L394.49,328.01 L394.49,329.01 L394.49,330.01 L394.49,331.01 L394.48,332.01 L394.48,333.01 L394.48,334.01 L394.48,335.01 L394.48,336.01 L394.48,337.01 L394.48,338.01 L394.48,339.01 L394.48,340.01 L394.47,341.01 L394.47,342.01 L394.47,343.01 L394.47,344.01 L394.47,345.01 L394.47,346.01 L394.47,347.01 L394.47,348.01 L394.47,349.01 L394.47,350.01 L394.46,351.01 L394.46,352.01 L394.46,353.01 L394.46,354.01 L394.46,355.01 L394.46,356.01 L394.46,357.01 L394.46,358.01 L394.46,359.01 L394.46,360.01 L394.45,361.01 L394.45,362.01 L394.45,363.01 L394.45,364.01 L394.45,365.01 L394.45,366.01 L394.45,367.01 L394.45,368.01 L394.45,369.01 L394.44,370.01 L394.44,371.01 L394.44,372.01 L394.44,373.01 L394.44,374.01 L394.44,375.01 L394.44,376.01 L394.44,377.01 L394.43,378.01 L394.43,379.01 L394.43,380.01 L394.43,381.01 L394.43,382.01 L394.43,383.01 L394.43,384.01 L394.42,385.01 L394.42,386.01 L394.42,387.01 L394.42,388.01 L394.42,389.01 L394.42,390.01 L394.42,391.01 L394.41,392.01 L394.41,393.01 L394.41,394.01 L394.41,395.01 L394.41,396.01 L394.41,397.01 L394.4,398.01 L394.4,399.01 L394.4,400.01 L394.4,401.01 L394.4,402.01 L394.4,403.01 L394.39,404.01 L394.39,405.01 L394.39,406.01 L394.39,407.01 L394.39,408.01 L394.39,409.01 L394.39,410.01 L394.39,411.01 L394.39,412.01 L394.38,413.01 L394.38,414 L394.38,415 L394.38,416 L394.38,417 L394.38,418 L394.38,419 L394.38,420 L394.38,421 L394.38,422 L394.38,423 L394.38,424 L394.38,425 L394.38,426 L394.38,427 L394.38,428 L394.38,429 L394.38,430 L394.38,431 L394.38,432 L394.38,433 L394.38,434.01 L394.37,435.01 L394.37,436.01 L394.37,437.01 L394.37,438.01 L394.37,439.01 L394.37,440.01 L394.37,441.01 L394.37,442.01 L394.37,443.01 L394.37,444.01 L394.36,445.01 L394.36,446.01 L394.36,447.01 L394.36,448.01 L394.36,449.01 L394.36,450.01 L394.35,451.01 L394.35,452.01 L394.35,453.01 L394.35,454.01 L394.34,455.02 L394.34,456.02 L394.34,457.02 L394.33,458.02 L394.33,459.02 L394.33,460.02 L394.32,461.03 L394.32,462.03 L394.31,463.03 L394.31,464.03 L394.3,465.03 L394.3,466.03 L394.3,467.03 L394.29,468.04 L394.28,469.04 L394.28,470.04 L394.27,471.04 L394.26,472.04 L394.26,473.04 L394.25,474.06 L394.24,475.06 L394.23,476.06 L394.23,477.06 L394.22,478.06 L394.21,479.06 L394.2,480.06 L394.19,481.05 L394.18,482.05 L394.18,483.05 L394.17,484.05 L394.16,485.05 L394.15,486.04 L394.15,487.04 L394.14,488.04 L394.13,489.04 L394.13,490.04 L394.12,491.03 L394.12,492.03 L394.11,493.03 L394.11,494.03 L394.1,495.03 L394.1,496.03 L394.09,497.03 L394.09,498.03 L394.09,499.03 L394.08,500.03 L394.08,501.04 L394.07,502.04 L394.06,503.04 L394.06,504.04 L394.05,505.04 L394.04,506.05 L394.04,507.05 L394.03,508.05 L394.02,509.05 L394.01,510.05 L394,511.08 L393.99,512.08 L393.98,513.08 L393.97,514.08 L393.95,515.08 L393.94,516.11 L393.92,517.11 L393.9,518.11 L393.89,519.11 L393.87,520.15 L393.85,521.15 L393.83,522.15 L393.8,523.15 L393.78,524.15 L393.76,525.19 L393.73,526.19 L393.7,527.19 L393.67,528.19 L393.64,529.19 L393.61,530.24 L393.57,531.24 L393.53,532.24 L393.5,533.24 L393.46,534.24 L393.42,535.29 L393.37,536.29 L393.33,537.29 L393.28,538.29 L393.24,539.29 L393.19,540.29 L393.14,541.34 L393.09,542.34 L393.03,543.33 L392.98,544.33 L392.93,545.33 L392.87,546.37 L392.81,547.37 L392.76,548.36 L392.7,549.36 L392.64,550.36 L392.58,551.36 L392.52,552.39 L392.45,553.39 L392.39,554.39 L392.33,555.39 L392.26,556.39 L392.2,557.38 L392.13,558.42 L392.06,559.42 L391.99,560.41 L391.92,561.41 L391.85,562.41 L391.78,563.41 L391.7,564.44 L391.63,565.44 L391.56,566.43 L391.48,567.43 L391.41,568.43 L391.33,569.46 L391.25,570.46 L391.17,571.45 L391.09,572.45 L391.01,573.45 L390.93,574.44 L390.85,575.48 L390.76,576.47 L390.68,577.47 L390.59,578.47 L390.51,579.46 L390.42,580.46 L390.33,581.49 L390.24,582.49 L390.15,583.48 L390.06,584.48 L389.97,585.47 L389.88,586.47 L389.78,587.5 L389.69,588.5 L389.59,589.49 L389.5,590.49 L389.4,591.48 L389.31,592.48 L389.2,593.51 L389.1,594.5 L389,595.5 L388.9,596.49 L388.8,597.49 L388.7,598.48 L388.59,599.51 L388.49,600.51 L388.38,601.5 L388.27,602.5 L388.17,603.49 L388.06,604.49 L387.95,605.52 L387.84,606.51 L387.72,607.5 L387.61,608.5 L387.5,609.49 L387.39,610.48 L387.27,611.51 L387.15,612.51 L387.03,613.5 L386.92,614.49 L386.8,615.49 L386.68,616.48 L386.56,617.51 L386.43,618.5 L386.31,619.49 L386.19,620.48 L386.07,621.48 L385.95,622.47 L385.82,623.49 L385.69,624.49 L385.56,625.48 L385.43,626.47 L385.31,627.46 L385.18,628.45 L385.04,629.48 L384.91,630.47 L384.78,631.46 L384.65,632.45 L384.52,633.44 L384.38,634.43 L384.24,635.46 L384.1,636.45 L383.97,637.44 L383.83,638.43 L383.69,639.42 L383.56,640.41 L383.41,641.44 L383.27,642.43 L383.12,643.42 L382.98,644.41 L382.84,645.4 L382.7,646.39 L382.54,647.41 L382.4,648.4 L382.25,649.39 L382.1,650.38 L381.95,651.37 L381.8,652.36 L381.64,653.39 L381.49,654.37 L381.34,655.36 L381.18,656.35 L381.03,657.34 L380.87,658.33 L380.71,659.36 L380.55,660.34 L380.39,661.33 L380.23,662.32 L380.07,663.3 L379.9,664.34 L379.73,665.32 L379.56,666.31 L379.4,667.29 L379.23,668.28 L379.06,669.27 L378.88,670.3 L378.71,671.29 L378.53,672.27 L378.36,673.26 L378.18,674.24 L378.01,675.22 L377.82,676.26 L377.63,677.25 L377.45,678.23 L377.27,679.21 L377.09,680.2 L376.88,681.25 L376.69,682.23 L376.5,683.21 L376.31,684.19 L376.09,685.24 L375.89,686.22 L375.69,687.2 L375.48,688.18 L375.26,689.22 L375.05,690.2 L374.84,691.18 L374.62,692.15 L374.4,693.19 L374.17,694.16 L373.95,695.14 L373.73,696.11 L373.49,697.14 L373.26,698.11 L373.03,699.08 L372.81,700.06 L372.56,701.07 L372.33,702.04 L372.09,703.01 L371.86,703.98 L371.61,704.99 L371.37,705.96 L371.13,706.93 L370.89,707.9 L370.65,708.89 L370.4,709.86 L370.16,710.83 L369.91,711.81 L369.67,712.78 L369.43,713.75 L369.18,714.72 L368.94,715.68 L368.7,716.65 L368.45,717.62 L368.21,718.59 L367.97,719.55 L367.73,720.52 L367.49,721.49 L367.25,722.46 L367.01,723.4 L366.78,724.38 L366.54,725.35 L366.31,726.3 L366.07,727.27 L365.84,728.24 L365.6,729.22 L365.37,730.18 L365.13,731.16 L364.9,732.13 L364.67,733.1 L364.43,734.07 L364.2,735.05 L363.96,736.02 L363.73,736.99 L363.49,737.97 L363.26,738.94 L363.02,739.91 L362.79,740.88 L362.55,741.86 L362.32,742.83 L362.08,743.8 L361.84,744.79 L361.6,745.76 L361.37,746.73 L361.13,747.7 L360.89,748.69 L360.65,749.66 L360.41,750.63 L360.17,751.6 L359.92,752.59 L359.68,753.56 L359.43,754.53 L359.19,755.52 L358.94,756.49 L358.69,757.46 L358.45,758.43 L358.19,759.43 L357.94,760.4 L357.69,761.36 L357.44,762.33 L357.18,763.33 L356.92,764.3 L356.66,765.27 L356.39,766.28 L356.13,767.24 L355.87,768.21 L355.58,769.25 L355.31,770.21 L355.04,771.17 L354.73,772.22 L354.44,773.18 L354.13,774.21 L353.83,775.17 L353.53,776.12 L353.21,777.13 L352.9,778.08 L352.58,779.06 L352.27,780.01 L351.96,780.97 L351.65,781.92 L351.34,782.87 L351.03,783.8 L350.72,784.75 L350.43,785.66 L350.13,786.61 L349.85,787.5 L349.56,788.45 L349.3,789.31 L349.02,790.27 L348.74,791.23 L348.52,792.07 L348.26,793.03 L348.06,793.85 L347.82,794.82 L347.62,795.69 L347.4,796.66 L347.2,797.59 L346.99,798.57 L346.79,799.49 L346.59,800.47 L346.41,801.39 L346.23,802.29 L346.05,803.27 L345.89,804.17 L345.72,805.15 L345.58,806.04 L345.42,807.03 L345.3,807.91 L345.18,808.78 L345.06,809.77 L344.96,810.63 L344.86,811.63 L344.78,812.49 L344.7,813.48 L344.65,814.34 L344.59,815.33 L344.55,816.23 L344.52,817.17 L344.48,818.17 L344.46,819.08 L344.44,820.08 L344.43,820.98 L344.42,821.98 L344.43,822.87 L344.44,823.73 L344.48,824.73 L344.51,825.57 L344.57,826.57 L344.63,827.39 L344.71,828.38 L344.8,829.18 L344.88,829.95 L345.03,830.94 L345.14,831.68 L345.33,832.67 L345.47,833.38 L345.7,834.35 L345.88,835.05 L346.08,835.77 L346.38,836.73 L346.62,837.45 L346.95,838.4 L347.23,839.13 L347.59,840.06 L347.9,840.8 L348.22,841.54 L348.64,842.45 L348.99,843.2 L349.43,844.1 L349.81,844.85 L350.27,845.74 L350.68,846.49 L351.1,847.25 L351.6,848.12 L352.04,848.88 L352.55,849.74 L353.02,850.5 L353.47,851.23 L354.01,852.07 L354.47,852.76 L355.03,853.58 L355.52,854.26 L356.1,855.08 L356.61,855.75 L357.13,856.43 L357.75,857.22 L358.29,857.89 L358.92,858.66 L359.49,859.33 L360.14,860.09 L360.72,860.74 L361.31,861.4 L361.98,862.13 L362.59,862.78 L363.28,863.5 L363.9,864.14 L364.53,864.77 L365.24,865.47 L365.89,866.11 L366.61,866.8 L367.28,867.42 L367.95,868.04 L368.69,868.71 L369.35,869.3 L370.02,869.88 L370.78,870.52 L371.45,871.08 L372.22,871.71 L372.9,872.23 L373.56,872.73 L374.37,873.33 L375.04,873.8 L375.69,874.25 L376.53,874.79 L377.19,875.2 L377.84,875.58 L378.72,876.07 L379.43,876.44 L380.21,876.83 L380.97,877.21 L381.88,877.63 L382.64,877.96 L383.4,878.28 L384.13,878.57 L385.07,878.92 L385.8,879.16 L386.5,879.37 L387.17,879.55 L387.8,879.7 L388.79,879.88 L389.39,879.95 L389.93,879.99 L390.49,879.99 L391.12,879.96 L391.78,879.9 L392.44,879.8 L393.11,879.67 L393.77,879.5 L394.43,879.31 L395.06,879.09 L395.67,878.84 L396.25,878.56 L396.78,878.26 L397.25,877.95 L397.3,877.9 L397.72,877.51 L398.12,877.07 L398.3,876.84 L398.7,876.27 L399.07,875.66 L399.42,875.01 L399.65,874.53 L399.96,873.8 L400.2,873.16 L400.36,872.6 L400.44,872.27 L400.57,871.54 L400.68,870.75 L400.77,869.91 L400.84,869.03 L400.91,868.11 L400.96,867.14 L401.02,866.14 L401.08,865.1 L401.14,864.13 L401.19,863.25 L401.22,862.37 L401.23,861.47 L401.24,860.56 L401.23,859.62 L401.22,858.65 L401.2,857.65 L401.18,856.66 L401.16,855.65 L401.14,854.62 L401.12,853.62 L401.11,852.59 L401.11,851.54 L401.1,850.54 L401.1,849.52 L401.1,848.52 L401.1,847.52 L401.1,846.52 L401.1,845.52 L401.1,844.52 L401.1,843.52 L401.1,842.52 L401.1,841.52 L401.1,840.52 L401.1,839.52 L401.1,838.52 L401.1,837.52 L401.1,836.52 L401.1,835.52 L401.1,834.52 L401.1,833.52 L401.1,832.52 L401.1,831.52 L401.1,830.52 L401.1,829.52 L401.1,828.52 L401.1,827.52 L401.1,826.52 L401.1,825.52 L401.1,824.52 L401.1,823.52 L401.1,822.52 L401.1,821.52 L401.1,820.52 L401.1,819.52 L401.1,818.52 L401.1,817.52 L401.1,816.52 L401.1,815.52 L401.1,814.52 L401.1,813.52 L401.1,812.52 L401.1,811.52 L401.1,810.52 L401.1,809.52 L401.1,808.52 L401.1,807.52 L401.1,806.52 L401.1,805.52 L401.1,804.52 L401.1,803.52 L401.1,802.52 L401.1,801.52 L401.1,800.52 L401.1,799.52 L401.1,798.52 L401.1,797.52 L401.1,796.52 L401.1,795.52 L401.1,794.52 L401.1,793.52 L401.1,792.52 L401.1,791.52 L401.1,790.52 L401.1,789.52 L401.1,788.52 L401.1,787.52 L401.1,786.52 L401.1,785.52 L401.1,784.52 L401.1,783.52 L401.1,782.52 L401.1,781.52 L401.1,780.52 L401.1,779.52 L401.1,778.52 L401.1,777.52 L401.1,776.52 L401.1,775.52 L401.1,774.52 L401.1,773.52 L401.1,772.52 L401.1,771.52 L401.1,770.52 L401.1,769.52 L401.1,768.52 L401.1,767.52 L401.1,766.52 L401.1,765.52 L401.1,764.52 L401.1,763.52 L401.1,762.52 L401.1,761.52 L401.1,760.52 L401.1,759.52 L401.1,758.52 L401.1,757.52 L401.1,756.52 L401.1,755.52 L401.1,754.52 L401.1,753.52 L401.1,752.52 L401.1,751.52 L401.1,750.52 L401.1,749.52 L401.1,748.52 L401.1,747.52 L401.1,746.52 L401.1,745.52 L401.1,744.52 L401.1,743.52 L401.1,742.52 L401.1,741.52 L401.1,740.52 L401.1,739.52 L401.1,738.52 L401.1,737.52 L401.1,736.52 L401.1,735.52 L401.1,734.52 L401.1,733.52 L401.1,732.52 L401.1,731.52 L401.1,730.52 L401.1,729.52 L401.1,728.52 L401.1,727.52 L401.1,726.52 L401.1,725.52 L401.1,724.52 L401.1,723.52 L401.1,722.52 L401.1,721.52 L401.1,720.52 L401.1,719.52 L401.1,718.52 L401.1,717.52 L401.1,716.52 L401.1,715.52 L401.1,714.52 L401.1,713.52 L401.1,712.52 L401.1,711.52 L401.1,710.52 L401.1,709.52 L401.1,708.52 L401.1,707.52 L401.1,706.52 L401.1,705.52 L401.1,704.52 L401.1,703.52 L401.1,702.52 L401.1,701.52 L401.1,700.52 L401.1,699.52 L401.1,698.52 L401.1,697.52 L401.1,696.52 L401.1,695.52 L401.1,694.52 L401.1,693.52 L401.1,692.52 L401.1,691.52 L401.1,690.52 L401.1,689.52 L401.1,688.52 L401.1,687.52 L401.1,686.52 L401.1,685.52 L401.1,684.52 L401.1,683.52 L401.1,682.52 L401.1,681.52 L401.1,680.52 L401.1,679.52 L401.1,678.52 L401.1,677.52 L401.1,676.52 L401.1,675.52 L401.1,674.52 L401.1,673.52 L401.1,672.52 L401.1,671.52 L401.1,670.52 L401.1,669.52 L401.1,668.52 L401.1,667.52 L401.1,666.52 L401.1,665.52 L401.1,664.52 L401.1,663.52 L401.1,662.52 L401.1,661.52 L401.1,660.52 L401.1,659.52 L401.1,658.52 L401.1,657.52 L401.1,656.52 L401.1,655.52 L401.1,654.52 L401.1,653.52 L401.1,652.52 L401.1,651.52 L401.1,650.52 L401.1,649.52 L401.1,648.52 L401.1,647.52 L401.1,646.52 L401.1,645.52 L401.1,644.52 L401.1,643.52 L401.1,642.52 L401.1,641.52 L401.1,640.52 L401.1,639.52 L401.1,638.52 L401.1,637.52 L401.1,636.52 L401.1,635.52 L401.1,634.52 L401.1,633.52 L401.1,632.52 L401.1,631.52 L401.1,630.52 L401.1,629.52 L401.1,628.52 L401.1,627.52 L401.1,626.52 L401.1,625.52 L401.1,624.52 L401.1,623.52 L401.1,622.52 L401.1,621.52 L401.1,620.52 L401.1,619.52 L401.1,618.52 L401.1,617.52 L401.1,616.52 L401.1,615.52 L401.1,614.52 L401.1,613.52 L401.1,612.52 L401.1,611.52 L401.1,610.52 L401.1,609.52 L401.1,608.52 L401.1,607.52 L401.1,606.52 L401.1,605.52 L401.1,604.52 L401.1,603.52 L401.1,602.52 L401.1,601.52 L401.1,600.52 L401.1,599.52 L401.1,598.52 L401.1,597.52 L401.1,596.52 L401.1,595.52 L401.1,594.52 L401.1,593.52 L401.1,592.52 L401.1,591.52 L401.1,590.52 L401.1,589.52 L401.1,588.52 L401.1,587.52 L401.1,586.52 L401.1,585.52 L401.1,584.52 L401.1,583.52 L401.1,582.52 L401.1,581.52 L401.1,580.52 L401.1,579.52 L401.1,578.52 L401.1,577.52 L401.1,576.52 L401.1,575.52 L401.1,574.52 L401.1,573.52 L401.1,572.52 L401.1,571.52 L401.1,570.52 L401.1,569.52 L401.1,568.52 L401.1,567.52 L401.1,566.52 L401.1,565.52 L401.1,564.52 L401.1,563.52 L401.1,562.52 L401.1,561.52 L401.1,560.52 L401.1,559.52 L401.1,558.52 L401.1,557.52 L401.1,556.52 L401.1,555.52 L401.1,554.52 L401.1,553.52 L401.1,552.52 L401.1,551.52 L401.1,550.52 L401.1,549.52 L401.1,548.52 L401.1,547.52 L401.1,546.52 L401.1,545.52 L401.1,544.52 L401.1,543.52 L401.1,542.52 L401.1,541.52 L401.1,540.52 L401.1,539.52 L401.1,538.52 L401.1,537.52 L401.1,536.52 L401.1,535.52 L401.1,534.52 L401.1,533.52 L401.1,532.52 L401.1,531.52 L401.1,530.52 L401.1,529.52 L401.1,528.52 L401.1,527.52 L401.1,526.52 L401.1,525.52 L401.1,524.52 L401.1,523.52 L401.1,522.52 L401.1,521.52 L401.1,520.52 L401.1,519.52 L401.1,518.52 L401.1,517.52 L401.1,516.52 L401.1,515.52 L401.1,514.52 L401.1,513.52 L401.1,512.52 L401.1,511.52 L401.1,510.52 L401.1,509.52 L401.1,508.52 L401.1,507.52 L401.1,506.52 L401.1,505.52 L401.1,504.52 L401.1,503.52 L401.1,502.52 L401.1,501.52 L401.1,500.52 L401.1,499.52 L401.1,498.52 L401.1,497.52 L401.1,496.52 L401.1,495.52 L401.1,494.52 L401.1,493.52 L401.1,492.52 L401.1,491.52 L401.1,490.52 L401.1,489.52 L401.1,488.52 L401.1,487.52 L401.1,486.52 L401.1,485.52 L401.1,484.52 L401.1,483.52 L401.1,482.52 L401.1,481.52 L401.1,480.52 L401.1,479.52 L401.1,478.52 L401.1,477.52 L401.1,476.52 L401.1,475.52 L401.1,474.52 L401.1,473.52 L401.1,472.52 L401.1,471.52 L401.1,470.52 L401.1,469.52 L401.1,468.52 L401.1,467.52 L401.1,466.52 L401.1,465.52 L401.1,464.52 L401.1,463.52 L401.1,462.52 L401.1,461.52 L401.1,460.52 L401.1,459.52 L401.1,458.52 L401.1,457.52 L401.1,456.52 L401.1,455.52 L401.1,454.52 L401.1,453.52 L401.1,452.52 L401.1,451.52 L401.1,450.52 L401.1,449.52 L401.1,448.52 L401.1,447.52 L401.1,446.52 L401.1,445.52 L401.1,444.52 L401.1,443.52 L401.1,442.52 L401.1,441.52 L401.1,440.52 L401.1,439.52 L401.1,438.52 L401.1,437.52 L401.1,436.52 L401.1,435.52 L401.1,434.52 L401.1,433.52 L401.1,432.52 L401.1,431.52 L401.1,430.52 L401.1,429.52 L401.1,428.52 L401.1,427.52 L401.1,426.52 L401.1,425.52 L401.1,424.52 L401.1,423.52 L401.1,422.52 L401.1,421.52 L401.1,420.52 L401.1,419.52 L401.1,418.52 L401.1,417.52 L401.1,416.52 L401.1,415.52 L401.1,414.52 L401.1,413.52 L401.1,412.52 L401.1,411.52 L401.1,410.52 L401.1,409.52 L401.1,408.52 L401.1,407.52 L401.1,406.52 L401.1,405.52 L401.1,404.52 L401.1,403.52 L401.1,402.52 L401.1,401.52 L401.1,400.52 L401.1,399.52 L401.1,398.52 L401.1,397.52 L401.1,396.52 L401.1,395.52 L401.1,394.52 L401.1,393.52 L401.1,392.52 L401.1,391.52 L401.1,390.52 L401.1,389.52 L401.1,388.52 L401.1,387.52 L401.1,386.52 L401.1,385.52 L401.1,384.52 L401.1,383.52 L401.1,382.52 L401.1,381.52 L401.1,380.52 L401.1,379.52 L401.1,378.52 L401.1,377.52 L401.1,376.52 L401.1,375.52 L401.1,374.52 L401.1,373.52 L401.1,372.52 L401.1,371.52 L401.1,370.52 L401.1,369.52 L401.1,368.52 L401.1,367.52 L401.1,366.52 L401.1,365.52 L401.1,364.52 L401.1,363.52 L401.1,362.52 L401.1,361.52 L401.1,360.52 L401.1,359.52 L401.1,358.52 L401.1,357.52 L401.1,356.52 L401.1,355.52 L401.1,354.52 L401.1,353.52 L401.1,352.52 L401.1,352" class="he"/>
<path d="M375.2,298.6 Q371,302 370.5,307.6 L370,316.2 Q370.5,319 372.4,320 L421.7,346.8 L421.7,310.5 L400.3,299.3 Z" class="w"/>
<path d="M376.7,298.8 Q372,301 370.6,307.6 L370,316.2 Q370.5,319.2 373,320.8 L421.7,346.8" class="k"/>
<path d="M400.3,299.3 L421.7,310.5" class="t"/>
<path d="M376.7,300 Q385,309 400.3,299.3" class="t"/>
<path d="M396.1,345.6 Q403,350 408,350.5 Q416,350 421.7,347.4 L421.2,352.5 Q418,358 412.7,359.3 L403.8,358.7 Q399,357 396.1,354.5 Z" class="tw"/>
<line x1="404" y1="350.3" x2="404" y2="358.8" class="t"/>
<line x1="406.3" y1="350.3" x2="406.3" y2="358.8" class="t"/>
<line x1="415.7" y1="350.3" x2="415.7" y2="358.8" class="t"/>
<line x1="418.6" y1="350.3" x2="418.6" y2="358.8" class="t"/>
<line x1="395" y1="333" x2="395" y2="346" class="t"/>
<line x1="397.3" y1="333" x2="397.3" y2="346" class="t"/>
<line x1="421.6" y1="346.5" x2="421.6" y2="941" class="k"/>
<ellipse cx="461.5" cy="354" rx="15.5" ry="9.5" transform="rotate(-60 461.5 354)" class="tw"/>
<path d="M461.16,341.15 L461.68,340.88 L462.2,340.64 L462.71,340.43 L463.23,340.25 L463.74,340.09 L464.24,339.97 L464.74,339.87 L465.23,339.81 L465.72,339.77 L466.19,339.76 L466.66,339.79 L467.12,339.84 L467.56,339.92 L467.99,340.03 L468.41,340.18 L468.81,340.35 L469.2,340.55 L469.57,340.77 L469.92,341.03 L470.26,341.31 L470.58,341.62 L470.87,341.96 L471.15,342.32 L471.41,342.7 L471.65,343.11 L471.87,343.54 L472.06,344 L472.24,344.47 L472.39,344.96 L472.51,345.48 L472.62,346.01 L472.7,346.56 L472.76,347.12 L472.79,347.7 L472.8,348.29 L472.79,348.89 L472.75,349.51 L472.69,350.13 L472.61,350.76 L472.5,351.4" class="k"/>
<ellipse cx="463.8" cy="355.4" rx="13.3" ry="8" transform="rotate(-60 463.8 355.4)" class="t"/>
<ellipse cx="463" cy="356" rx="7" ry="4.2" transform="rotate(-60 463 356)" class="t"/>
<path d="M466.64,358.1 L466.35,358.57 L466.05,359.02 L465.72,359.46 L465.38,359.87 L465.02,360.26 L464.65,360.62 L464.27,360.96 L463.89,361.26 L463.49,361.53 L463.1,361.77 L462.7,361.97 L462.31,362.14 L461.92,362.27 L461.53,362.35 L461.16,362.4 L460.8,362.41 L460.45,362.38 L460.11,362.32 L459.8,362.21 L459.5,362.06 L459.23,361.88 L458.97,361.66 L458.75,361.4 L458.55,361.12 L458.37,360.8 L458.23,360.45 L458.12,360.07 L458.03,359.67 L457.98,359.25 L457.95,358.8 L457.96,358.34 L458,357.86 L458.07,357.38 L458.17,356.88 L458.3,356.38 L458.46,355.88 L458.65,355.37 L458.86,354.87 L459.1,354.38 L459.36,353.9" class="h"/>
<ellipse cx="464.2" cy="356.6" rx="5.6" ry="3.3" transform="rotate(-60 464.2 356.6)" class="t"/>
<path d="M467,349 L482.5,354.2 L478,372.8 L469.8,368.6 Z" class="w"/>
<line x1="467" y1="349" x2="482.5" y2="354.2" class="k"/>
<line x1="469.8" y1="368.6" x2="478" y2="372.8" class="k"/>
<ellipse cx="484.6" cy="366" rx="12.6" ry="7.8" transform="rotate(-60 484.6 366)" class="kw"/>
<path d="M479.14,375.02 L478.95,374.62 L478.79,374.19 L478.66,373.73 L478.56,373.25 L478.48,372.75 L478.44,372.22 L478.42,371.68 L478.43,371.11 L478.48,370.53 L478.55,369.94 L478.65,369.34 L478.78,368.73 L478.93,368.11 L479.12,367.49 L479.33,366.86 L479.57,366.24 L479.83,365.62 L480.12,365.01 L480.43,364.4 L480.76,363.8 L481.11,363.21 L481.48,362.64 L481.87,362.09 L482.28,361.55 L482.7,361.03 L483.13,360.54 L483.58,360.07 L484.04,359.62 L484.5,359.2 L484.97,358.82 L485.45,358.46 L485.93,358.13 L486.41,357.84 L486.89,357.58 L487.37,357.36 L487.84,357.17 L488.31,357.02 L488.77,356.9 L489.23,356.83 L489.67,356.79" class="t"/>
<path d="M484.6,440 L484.6,498 Q484.6,503.5 489.9,503.5 Q495.2,503.5 495.2,498 L495.2,440 Z" class="kw"/>
<path d="M471.9,388.8 L440.6,408.7 Q435.5,414.5 440,419.5 L461.4,435.8 L484.35,396.17 Z" class="w"/>
<path d="M471.9,388.8 L440.6,408.7 Q435.5,414.5 440,419.5 L461.4,435.8" class="t"/>
<path d="M460.85,434.19 L460.31,433.8 L459.83,433.3 L459.43,432.68 L459.11,431.96 L458.86,431.14 L458.69,430.22 L458.6,429.2 L458.6,428.11 L458.67,426.93 L458.82,425.68 L459.06,424.37 L459.37,423.01 L459.75,421.6 L460.22,420.14 L460.75,418.67 L461.35,417.17 L462.01,415.65 L462.73,414.14 L463.51,412.64 L464.34,411.15 L465.21,409.69 L466.13,408.26 L467.08,406.88 L468.05,405.55 L469.05,404.28 L470.07,403.08 L471.09,401.96 L472.12,400.92 L473.15,399.96 L474.17,399.11 L475.17,398.35 L476.15,397.7 L477.1,397.16 L478.03,396.73 L478.91,396.41 L479.74,396.21 L480.53,396.13 L481.26,396.17 L481.94,396.33 L482.55,396.61 L512.25,411.87 L512.25,411.87 L513.15,412.47 L513.97,413.18 L514.7,414.02 L515.36,414.96 L515.92,416 L516.39,417.14 L516.76,418.37 L517.04,419.68 L517.21,421.07 L517.29,422.52 L517.26,424.03 L517.13,425.58 L516.9,427.18 L516.57,428.8 L516.14,430.44 L515.62,432.09 L515.01,433.73 L514.31,435.36 L513.53,436.97 L512.66,438.55 L511.73,440.08 L510.73,441.57 L509.66,442.99 L508.55,444.34 L507.38,445.62 L506.17,446.81 L504.93,447.9 L503.67,448.9 L502.39,449.79 L501.09,450.57 L499.8,451.23 L498.51,451.77 L497.24,452.19 L495.98,452.48 L494.76,452.64 L493.58,452.68 L492.44,452.58 L491.35,452.36 L490.32,452.01 L489.35,451.53 Z" class="w"/>
<path d="M460.85,434.19 L460.31,433.8 L459.83,433.3 L459.43,432.68 L459.11,431.96 L458.86,431.14 L458.69,430.22 L458.6,429.2 L458.6,428.11 L458.67,426.93 L458.82,425.68 L459.06,424.37 L459.37,423.01 L459.75,421.6 L460.22,420.14 L460.75,418.67 L461.35,417.17 L462.01,415.65 L462.73,414.14 L463.51,412.64 L464.34,411.15 L465.21,409.69 L466.13,408.26 L467.08,406.88 L468.05,405.55 L469.05,404.28 L470.07,403.08 L471.09,401.96 L472.12,400.92 L473.15,399.96 L474.17,399.11 L475.17,398.35 L476.15,397.7 L477.1,397.16 L478.03,396.73 L478.91,396.41 L479.74,396.21 L480.53,396.13 L481.26,396.17 L481.94,396.33 L482.55,396.61" class="k"/>
<path d="M464.35,436.22 L463.91,435.74 L463.53,435.15 L463.23,434.47 L462.99,433.69 L462.82,432.83 L462.73,431.88 L462.71,430.86 L462.76,429.76 L462.88,428.6 L463.08,427.38 L463.34,426.1 L463.67,424.78 L464.08,423.42 L464.54,422.03 L465.07,420.61 L465.66,419.18 L466.3,417.74 L467,416.3 L467.75,414.87 L468.54,413.45 L469.37,412.06 L470.24,410.69 L471.14,409.37 L472.06,408.09 L473.01,406.86 L473.97,405.7 L474.94,404.6 L475.92,403.57 L476.9,402.62 L477.87,401.75 L478.83,400.97 L479.78,400.29 L480.7,399.69 L481.6,399.2 L482.46,398.81 L483.3,398.52 L484.08,398.34 L484.83,398.27 L485.52,398.3 L486.17,398.44" class="t"/>
<path d="M512.25,411.87 L513.15,412.47 L513.97,413.18 L514.7,414.02 L515.36,414.96 L515.92,416 L516.39,417.14 L516.76,418.37 L517.04,419.68 L517.21,421.07 L517.29,422.52 L517.26,424.03 L517.13,425.58 L516.9,427.18 L516.57,428.8 L516.14,430.44 L515.62,432.09 L515.01,433.73 L514.31,435.36 L513.53,436.97 L512.66,438.55 L511.73,440.08 L510.73,441.57 L509.66,442.99 L508.55,444.34 L507.38,445.62 L506.17,446.81 L504.93,447.9 L503.67,448.9 L502.39,449.79 L501.09,450.57 L499.8,451.23 L498.51,451.77 L497.24,452.19 L495.98,452.48 L494.76,452.64 L493.58,452.68 L492.44,452.58 L491.35,452.36 L490.32,452.01 L489.35,451.53" class="k"/>
<path d="M489.35,451.53 L488.45,450.93 L487.63,450.22 L486.9,449.38 L486.24,448.44 L485.68,447.4 L485.21,446.26 L484.84,445.03 L484.56,443.72 L484.39,442.33 L484.31,440.88 L484.34,439.37 L484.47,437.82 L484.7,436.22 L485.03,434.6 L485.46,432.96 L485.98,431.31 L486.59,429.67 L487.29,428.04 L488.07,426.43 L488.94,424.85 L489.87,423.32 L490.87,421.83 L491.94,420.41 L493.05,419.06 L494.22,417.78 L495.43,416.59 L496.67,415.5 L497.93,414.5 L499.21,413.61 L500.51,412.83 L501.8,412.17 L503.09,411.63 L504.36,411.21 L505.62,410.92 L506.84,410.76 L508.02,410.72 L509.16,410.82 L510.25,411.04 L511.28,411.39 L512.25,411.87" class="t"/>
<line x1="484.35" y1="396.17" x2="512.25" y2="411.87" class="k"/>
<line x1="461.45" y1="435.83" x2="489.35" y2="451.53" class="k"/>
<line x1="471.9" y1="385" x2="471.9" y2="389" class="k"/>
<line x1="471.9" y1="388.8" x2="484.35" y2="396.17" class="k"/>
<rect x="449" y="1015" width="11.6" height="105.5" class="w"/>
<clipPath id="cp4490"><rect x="449" y="1015" width="11.6" height="105.5"/></clipPath>
<path d="M449,1013 L454.8,1008.7 L460.6,1013 M449,1014.9 L454.8,1010.6 L460.6,1014.9 M449,1019.3 L454.8,1015 L460.6,1019.3 M449,1021.2 L454.8,1016.9 L460.6,1021.2 M449,1025.6 L454.8,1021.3 L460.6,1025.6 M449,1027.5 L454.8,1023.2 L460.6,1027.5 M449,1031.9 L454.8,1027.6 L460.6,1031.9 M449,1033.8 L454.8,1029.5 L460.6,1033.8 M449,1038.2 L454.8,1033.9 L460.6,1038.2 M449,1040.1 L454.8,1035.8 L460.6,1040.1 M449,1044.5 L454.8,1040.2 L460.6,1044.5 M449,1046.4 L454.8,1042.1 L460.6,1046.4 M449,1050.8 L454.8,1046.5 L460.6,1050.8 M449,1052.7 L454.8,1048.4 L460.6,1052.7 M449,1057.1 L454.8,1052.8 L460.6,1057.1 M449,1059 L454.8,1054.7 L460.6,1059 M449,1063.4 L454.8,1059.1 L460.6,1063.4 M449,1065.3 L454.8,1061 L460.6,1065.3 M449,1069.7 L454.8,1065.4 L460.6,1069.7 M449,1071.6 L454.8,1067.3 L460.6,1071.6 M449,1076 L454.8,1071.7 L460.6,1076 M449,1077.9 L454.8,1073.6 L460.6,1077.9 M449,1082.3 L454.8,1078 L460.6,1082.3 M449,1084.2 L454.8,1079.9 L460.6,1084.2 M449,1088.6 L454.8,1084.3 L460.6,1088.6 M449,1090.5 L454.8,1086.2 L460.6,1090.5 M449,1094.9 L454.8,1090.6 L460.6,1094.9 M449,1096.8 L454.8,1092.5 L460.6,1096.8 M449,1101.2 L454.8,1096.9 L460.6,1101.2 M449,1103.1 L454.8,1098.8 L460.6,1103.1 M449,1107.5 L454.8,1103.2 L460.6,1107.5 M449,1109.4 L454.8,1105.1 L460.6,1109.4 M449,1113.8 L454.8,1109.5 L460.6,1113.8 M449,1115.7 L454.8,1111.4 L460.6,1115.7 M449,1120.1 L454.8,1115.8 L460.6,1120.1 M449,1122 L454.8,1117.7 L460.6,1122" class="br" clip-path="url(#cp4490)"/>
<line x1="449" y1="1015" x2="449" y2="1120.5" class="t"/>
<line x1="460.6" y1="1015" x2="460.6" y2="1120.5" class="t"/>
<rect x="432.8" y="1015" width="16.3" height="111.5" class="w"/>
<clipPath id="cp4328"><rect x="432.8" y="1015" width="16.3" height="111.5"/></clipPath>
<path d="M432.8,1008.7 L438.23,1013 L443.67,1008.7 L449.1,1013 M432.8,1010.6 L438.23,1014.9 L443.67,1010.6 L449.1,1014.9 M432.8,1015 L438.23,1019.3 L443.67,1015 L449.1,1019.3 M432.8,1016.9 L438.23,1021.2 L443.67,1016.9 L449.1,1021.2 M432.8,1021.3 L438.23,1025.6 L443.67,1021.3 L449.1,1025.6 M432.8,1023.2 L438.23,1027.5 L443.67,1023.2 L449.1,1027.5 M432.8,1027.6 L438.23,1031.9 L443.67,1027.6 L449.1,1031.9 M432.8,1029.5 L438.23,1033.8 L443.67,1029.5 L449.1,1033.8 M432.8,1033.9 L438.23,1038.2 L443.67,1033.9 L449.1,1038.2 M432.8,1035.8 L438.23,1040.1 L443.67,1035.8 L449.1,1040.1 M432.8,1040.2 L438.23,1044.5 L443.67,1040.2 L449.1,1044.5 M432.8,1042.1 L438.23,1046.4 L443.67,1042.1 L449.1,1046.4 M432.8,1046.5 L438.23,1050.8 L443.67,1046.5 L449.1,1050.8 M432.8,1048.4 L438.23,1052.7 L443.67,1048.4 L449.1,1052.7 M432.8,1052.8 L438.23,1057.1 L443.67,1052.8 L449.1,1057.1 M432.8,1054.7 L438.23,1059 L443.67,1054.7 L449.1,1059 M432.8,1059.1 L438.23,1063.4 L443.67,1059.1 L449.1,1063.4 M432.8,1061 L438.23,1065.3 L443.67,1061 L449.1,1065.3 M432.8,1065.4 L438.23,1069.7 L443.67,1065.4 L449.1,1069.7 M432.8,1067.3 L438.23,1071.6 L443.67,1067.3 L449.1,1071.6 M432.8,1071.7 L438.23,1076 L443.67,1071.7 L449.1,1076 M432.8,1073.6 L438.23,1077.9 L443.67,1073.6 L449.1,1077.9 M432.8,1078 L438.23,1082.3 L443.67,1078 L449.1,1082.3 M432.8,1079.9 L438.23,1084.2 L443.67,1079.9 L449.1,1084.2 M432.8,1084.3 L438.23,1088.6 L443.67,1084.3 L449.1,1088.6 M432.8,1086.2 L438.23,1090.5 L443.67,1086.2 L449.1,1090.5 M432.8,1090.6 L438.23,1094.9 L443.67,1090.6 L449.1,1094.9 M432.8,1092.5 L438.23,1096.8 L443.67,1092.5 L449.1,1096.8 M432.8,1096.9 L438.23,1101.2 L443.67,1096.9 L449.1,1101.2 M432.8,1098.8 L438.23,1103.1 L443.67,1098.8 L449.1,1103.1 M432.8,1103.2 L438.23,1107.5 L443.67,1103.2 L449.1,1107.5 M432.8,1105.1 L438.23,1109.4 L443.67,1105.1 L449.1,1109.4 M432.8,1109.5 L438.23,1113.8 L443.67,1109.5 L449.1,1113.8 M432.8,1111.4 L438.23,1115.7 L443.67,1111.4 L449.1,1115.7 M432.8,1115.8 L438.23,1120.1 L443.67,1115.8 L449.1,1120.1 M432.8,1117.7 L438.23,1122 L443.67,1117.7 L449.1,1122 M432.8,1122.1 L438.23,1126.4 L443.67,1122.1 L449.1,1126.4 M432.8,1124 L438.23,1128.3 L443.67,1124 L449.1,1128.3" class="br" clip-path="url(#cp4328)"/>
<line x1="432.8" y1="1015" x2="432.8" y2="1126.5" class="t"/>
<line x1="449.1" y1="1015" x2="449.1" y2="1126.5" class="t"/>
<line x1="449" y1="1015" x2="449" y2="1126" class="bm"/>
<path d="M449.8,1131.5 Q449.6,1128 458.3,1127 Q466.8,1128 466.8,1132 L466.8,1143.5 L461.9,1148.5 L452.7,1148.3 L449.8,1144 Z" class="tw"/>
<path d="M452.7,1137 L461.9,1137.5 L466.8,1133" class="t"/>
<line x1="461.9" y1="1137.5" x2="461.9" y2="1148.5" class="t"/>
<path d="M449.4,1120.5 L460.8,1120.5 L460.8,1133.5 Q455,1136 449.4,1133.5 Z" class="tw"/>
<path d="M449.4,1123.5 Q455,1126 460.8,1123.5 M449.4,1126.5 Q455,1129 460.8,1126.5" class="t"/>
<path d="M429.5,1138.5 Q430,1134 441,1133.8 Q452.5,1134 452.7,1139 L452.7,1151.5 L441,1155.8 L429.5,1152 Z" class="tw"/>
<path d="M429.5,1141.8 L441,1145.8 L452.7,1141.8" class="t"/>
<line x1="441" y1="1145.8" x2="441" y2="1155.8" class="t"/>
<path d="M433.2,1140 Q441,1144.5 448.9,1140" class="t"/>
<path d="M433.2,1126.2 L448.9,1126.2 L448.9,1140 Q441,1143.5 433.2,1140 Z" class="tw"/>
<path d="M433.2,1128.5 Q441,1131.5 448.9,1128.5 M433.2,1131.5 Q441,1134.5 448.9,1131.5" class="h"/>
<path d="M371.5,941.5 L371.73,938.08 L372.43,934.68 L373.59,931.32 L375.2,928.03 L377.25,924.82 L379.73,921.71 L382.63,918.72 L385.92,915.87 L389.59,913.18 L393.61,910.67 L397.97,908.35 L402.62,906.23 L407.55,904.32 L412.72,902.65 L418.11,901.22 L423.67,900.03 L429.37,899.1 L435.19,898.44 L441.08,898.03 L447,897.9 L452.92,898.03 L458.81,898.44 L464.63,899.1 L470.33,900.03 L475.89,901.22 L481.28,902.65 L486.45,904.32 L491.38,906.23 L496.03,908.35 L500.39,910.67 L504.41,913.18 L508.08,915.87 L511.37,918.72 L514.27,921.71 L516.75,924.82 L518.8,928.03 L520.41,931.32 L521.57,934.68 L522.27,938.08 L522.5,941.5 L522.5,978.5 L522.5,978.5 L522.27,981.92 L521.57,985.32 L520.41,988.68 L518.8,991.97 L516.75,995.18 L514.27,998.29 L511.37,1001.28 L508.08,1004.13 L504.41,1006.82 L500.39,1009.33 L496.03,1011.65 L491.38,1013.77 L486.45,1015.68 L481.28,1017.35 L475.89,1018.78 L470.33,1019.97 L464.63,1020.9 L458.81,1021.56 L452.92,1021.97 L447,1022.1 L441.08,1021.97 L435.19,1021.56 L429.37,1020.9 L423.67,1019.97 L418.11,1018.78 L412.72,1017.35 L407.55,1015.68 L402.62,1013.77 L397.97,1011.65 L393.61,1009.33 L389.59,1006.82 L385.92,1004.13 L382.63,1001.28 L379.73,998.29 L377.25,995.18 L375.2,991.97 L373.59,988.68 L372.43,985.32 L371.73,981.92 L371.5,978.5 Z" class="w"/>
<ellipse cx="447" cy="941.5" rx="75.5" ry="43.6" class="w"/>
<path d="M371.5,941.5 L371.56,939.79 L371.73,938.08 L372.02,936.38 L372.43,934.68 L372.95,932.99 L373.59,931.32 L374.33,929.67 L375.2,928.03 L376.17,926.41 L377.25,924.82 L378.44,923.25 L379.73,921.71 L381.13,920.2 L382.63,918.72 L384.22,917.28 L385.92,915.87 L387.71,914.51 L389.59,913.18 L391.56,911.9 L393.61,910.67 L395.75,909.48 L397.97,908.35 L400.26,907.26 L402.62,906.23 L405.05,905.25 L407.55,904.32 L410.11,903.46 L412.72,902.65 L415.39,901.9 L418.11,901.22 L420.87,900.59 L423.67,900.03 L426.51,899.54 L429.37,899.1 L432.27,898.74 L435.19,898.44 L438.13,898.2 L441.08,898.03 L444.04,897.93 L447,897.9 L449.96,897.93 L452.92,898.03 L455.87,898.2 L458.81,898.44 L461.73,898.74 L464.63,899.1 L467.49,899.54 L470.33,900.03 L473.13,900.59 L475.89,901.22 L478.61,901.9 L481.28,902.65 L483.89,903.46 L486.45,904.32 L488.95,905.25 L491.38,906.23 L493.74,907.26 L496.03,908.35 L498.25,909.48 L500.39,910.67 L502.44,911.9 L504.41,913.18 L506.29,914.51 L508.08,915.87 L509.78,917.28 L511.37,918.72 L512.87,920.2 L514.27,921.71 L515.56,923.25 L516.75,924.82 L517.83,926.41 L518.8,928.03 L519.67,929.67 L520.41,931.32 L521.05,932.99 L521.57,934.68 L521.98,936.38 L522.27,938.08 L522.44,939.79 L522.5,941.5" class="k"/>
<path d="M522.5,941.5 L522.44,943.21 L522.27,944.92 L521.98,946.62 L521.57,948.32 L521.05,950.01 L520.41,951.68 L519.67,953.33 L518.8,954.97 L517.83,956.59 L516.75,958.18 L515.56,959.75 L514.27,961.29 L512.87,962.8 L511.37,964.28 L509.78,965.72 L508.08,967.13 L506.29,968.49 L504.41,969.82 L502.44,971.1 L500.39,972.33 L498.25,973.52 L496.03,974.65 L493.74,975.74 L491.38,976.77 L488.95,977.75 L486.45,978.68 L483.89,979.54 L481.28,980.35 L478.61,981.1 L475.89,981.78 L473.13,982.41 L470.33,982.97 L467.49,983.46 L464.63,983.9 L461.73,984.26 L458.81,984.56 L455.87,984.8 L452.92,984.97 L449.96,985.07 L447,985.1 L444.04,985.07 L441.08,984.97 L438.13,984.8 L435.19,984.56 L432.27,984.26 L429.37,983.9 L426.51,983.46 L423.67,982.97 L420.87,982.41 L418.11,981.78 L415.39,981.1 L412.72,980.35 L410.11,979.54 L407.55,978.68 L405.05,977.75 L402.62,976.77 L400.26,975.74 L397.97,974.65 L395.75,973.52 L393.61,972.33 L391.56,971.1 L389.59,969.82 L387.71,968.49 L385.92,967.13 L384.22,965.72 L382.63,964.28 L381.13,962.8 L379.73,961.29 L378.44,959.75 L377.25,958.18 L376.17,956.59 L375.2,954.97 L374.33,953.33 L373.59,951.68 L372.95,950.01 L372.43,948.32 L372.02,946.62 L371.73,944.92 L371.56,943.21 L371.5,941.5" class="m"/>
<path d="M512.53,923.55 L513.98,925.4 L515.26,927.28 L516.37,929.19 L517.3,931.14 L518.06,933.11 L518.64,935.09 L519.04,937.09 L519.26,939.1 L519.29,941.11 L519.15,943.12 L518.82,945.13 L518.31,947.12 L517.62,949.09 L516.75,951.05 L515.71,952.97 L514.5,954.87 L513.11,956.73 L511.56,958.55 L509.85,960.32 L507.98,962.05 L505.95,963.71 L503.78,965.33 L501.46,966.87 L499.01,968.36 L496.42,969.77 L493.71,971.11 L490.89,972.37 L487.95,973.55 L484.91,974.65 L481.78,975.66 L478.55,976.58 L475.25,977.41 L471.88,978.15 L468.44,978.8 L464.95,979.34 L461.41,979.79 L457.84,980.15 L454.24,980.4 L450.63,980.55 L447,980.6 L443.37,980.55 L439.76,980.4 L436.16,980.15 L432.59,979.79 L429.05,979.34 L425.56,978.8 L422.12,978.15 L418.75,977.41 L415.45,976.58 L412.22,975.66 L409.09,974.65 L406.05,973.55 L403.11,972.37 L400.29,971.11 L397.58,969.77 L394.99,968.36 L392.54,966.87 L390.22,965.33 L388.05,963.71 L386.02,962.05 L384.15,960.32 L382.44,958.55 L380.89,956.73 L379.5,954.87 L378.29,952.97 L377.25,951.05 L376.38,949.09 L375.69,947.12 L375.18,945.13 L374.85,943.12 L374.71,941.11 L374.74,939.1 L374.96,937.09 L375.36,935.09 L375.94,933.11 L376.7,931.14 L377.63,929.19 L378.74,927.28 L380.02,925.4 L381.47,923.55" class="t"/>
<line x1="371.5" y1="941.5" x2="371.5" y2="978.5" class="k"/>
<line x1="522.5" y1="941.5" x2="522.5" y2="978.5" class="k"/>
<path d="M522.5,978.5 L522.44,980.21 L522.27,981.92 L521.98,983.62 L521.57,985.32 L521.05,987.01 L520.41,988.68 L519.67,990.33 L518.8,991.97 L517.83,993.59 L516.75,995.18 L515.56,996.75 L514.27,998.29 L512.87,999.8 L511.37,1001.28 L509.78,1002.72 L508.08,1004.13 L506.29,1005.49 L504.41,1006.82 L502.44,1008.1 L500.39,1009.33 L498.25,1010.52 L496.03,1011.65 L493.74,1012.74 L491.38,1013.77 L488.95,1014.75 L486.45,1015.68 L483.89,1016.54 L481.28,1017.35 L478.61,1018.1 L475.89,1018.78 L473.13,1019.41 L470.33,1019.97 L467.49,1020.46 L464.63,1020.9 L461.73,1021.26 L458.81,1021.56 L455.87,1021.8 L452.92,1021.97 L449.96,1022.07 L447,1022.1 L444.04,1022.07 L441.08,1021.97 L438.13,1021.8 L435.19,1021.56 L432.27,1021.26 L429.37,1020.9 L426.51,1020.46 L423.67,1019.97 L420.87,1019.41 L418.11,1018.78 L415.39,1018.1 L412.72,1017.35 L410.11,1016.54 L407.55,1015.68 L405.05,1014.75 L402.62,1013.77 L400.26,1012.74 L397.97,1011.65 L395.75,1010.52 L393.61,1009.33 L391.56,1008.1 L389.59,1006.82 L387.71,1005.49 L385.92,1004.13 L384.22,1002.72 L382.63,1001.28 L381.13,999.8 L379.73,998.29 L378.44,996.75 L377.25,995.18 L376.17,993.59 L375.2,991.97 L374.33,990.33 L373.59,988.68 L372.95,987.01 L372.43,985.32 L372.02,983.62 L371.73,981.92 L371.56,980.21 L371.5,978.5" class="k"/>
<path d="M421.6,895 L421.6,939.7 L421.6,939.7 L421.68,940.82 L421.91,941.94 L422.3,943.04 L422.84,944.12 L423.53,945.17 L424.36,946.19 L425.33,947.17 L426.43,948.11 L427.66,948.99 L429.01,949.81 L430.47,950.57 L432.03,951.27 L433.68,951.89 L435.41,952.44 L437.22,952.91 L439.08,953.3 L440.99,953.6 L442.94,953.82 L444.91,953.96 L446.9,954 L448.89,953.96 L450.86,953.82 L452.81,953.6 L454.72,953.3 L456.58,952.91 L458.39,952.44 L460.12,951.89 L461.77,951.27 L463.33,950.57 L464.79,949.81 L466.14,948.99 L467.37,948.11 L468.47,947.17 L469.44,946.19 L470.27,945.17 L470.96,944.12 L471.5,943.04 L471.89,941.94 L472.12,940.82 L472.2,939.7 L472.2,895 Z" class="w"/>
<path d="M421.6,900 L421.6,939.7 L421.6,939.7 L421.68,940.82 L421.91,941.94 L422.3,943.04 L422.84,944.12 L423.53,945.17 L424.36,946.19 L425.33,947.17 L426.43,948.11 L427.66,948.99 L429.01,949.81 L430.47,950.57 L432.03,951.27 L433.68,951.89 L435.41,952.44 L437.22,952.91 L439.08,953.3 L440.99,953.6 L442.94,953.82 L444.91,953.96 L446.9,954 L448.89,953.96 L450.86,953.82 L452.81,953.6 L454.72,953.3 L456.58,952.91 L458.39,952.44 L460.12,951.89 L461.77,951.27 L463.33,950.57 L464.79,949.81 L466.14,948.99 L467.37,948.11 L468.47,947.17 L469.44,946.19 L470.27,945.17 L470.96,944.12 L471.5,943.04 L471.89,941.94 L472.12,940.82 L472.2,939.7 L472.2,900" class="t"/>
<ellipse cx="447.5" cy="937.8" rx="23" ry="12.5" class="dash"/>
<path d="M444.11,949.05 L442.45,948.85 L440.83,948.58 L439.26,948.24 L437.75,947.83 L436.32,947.36 L434.97,946.81 L433.71,946.21 L432.56,945.56 L431.53,944.85 L430.61,944.1 L429.83,943.31 L429.18,942.49 L428.66,941.64 L428.3,940.77 L428.07,939.89 L428,939 L428.07,938.11 L428.3,937.23 L428.66,936.36 L429.18,935.51 L429.83,934.69 L430.61,933.9 L431.53,933.15 L432.56,932.44 L433.71,931.79 L434.97,931.19 L436.32,930.64 L437.75,930.17 L439.26,929.76 L440.83,929.42" class="dash"/>
<line x1="447.5" y1="470.7" x2="447.5" y2="939" class="d"/>
<line x1="443.5" y1="936.8" x2="451.5" y2="941" class="d"/>
<line x1="443.5" y1="941" x2="451.5" y2="936.8" class="d"/>
<line x1="367" y1="140.5" x2="566.8" y2="25" class="d"/>
<line x1="275.5" y1="326.7" x2="275.5" y2="589.8" class="d"/>
<line x1="275.5" y1="577.9" x2="446.9" y2="480.2" class="d"/>
<line x1="447.5" y1="470.7" x2="447.5" y2="939" class="d"/>
<polygon points="275.5,577.9 286.6,576.8 286.6,566.4" class="ar"/>
<polygon points="446.9,480.2 435.8,491.7 435.8,481.3" class="ar"/>
<line x1="275" y1="151.5" x2="492" y2="28.5" class="d"/>
<polygon points="267.5,155.7 278.6,154.7 278.6,144.1" class="ar"/>
<polygon points="500.4,24 489.3,35.6 489.3,25" class="ar"/>
<line x1="267.5" y1="139.5" x2="267.5" y2="316.5" class="d"/>
<line x1="273.3" y1="326.7" x2="259.7" y2="387.5" class="d"/>
<path d="M238.3,370.8 Q249,377.5 262.5,375.8 Q270,374.5 275.8,370.8" class="d"/>
<path d="M275.8,370.8 Q287,366.5 295,353.3" class="d"/>
<polygon points="262.5,375.8 248.6,372.3 250.2,381.6" class="ar"/>
<polygon points="275.8,370.8 281.9,360.2 286.9,369.8" class="ar"/>
<polyline points="273.1,728.1 323.1,756.7 345.7,758.8" class="d"/>
<polyline points="296.7,943.9 346.7,971.9 371.7,974.3" class="d"/>
<polyline points="370.9,1081.1 407.3,1102.5 432.5,1104.5" class="d"/>
<line x1="441.2" y1="1146" x2="441.2" y2="1178.5" class="d"/>
<text transform="matrix(1.0800 -0.6232 0 1 355.10 99.10)" style="font-family:&quot;Liberation Sans&quot;,sans-serif;font-size:23px;letter-spacing:2.5px">335</text>
<text transform="matrix(1.0000 -0.5770 0 1 331.05 540.55)" style="font-family:&quot;Liberation Sans&quot;,sans-serif;font-size:24.5px;letter-spacing:2.6px">244</text>
<text transform="matrix(0.0000 -1.0500 0.97 -0.56 550.70 501.05)" style="font-family:&quot;Liberation Sans&quot;,sans-serif;font-size:26px;letter-spacing:1px">1090</text>
<text transform="matrix(0.0000 -1.0000 0.97 -0.56 219.65 750.55)" style="font-family:&quot;Liberation Sans&quot;,sans-serif;font-size:26px;letter-spacing:2px">932</text>
<text transform="matrix(0.8800 0.5078 0 1 275.30 723.75)" style="font-family:&quot;Liberation Sans&quot;,sans-serif;font-size:23px;letter-spacing:0.5px">1500</text>
<text transform="matrix(0.8800 0.5078 0 1 300.95 938.25)" style="font-family:&quot;Liberation Sans&quot;,sans-serif;font-size:23px;letter-spacing:0.5px">ø150</text>
<text transform="matrix(0.8800 0.5078 0 1 374.60 1075.40)" style="font-family:&quot;Liberation Sans&quot;,sans-serif;font-size:23px;letter-spacing:0.5px">200</text>
<text transform="matrix(0.8800 0.5078 0 1 413.35 1186.15)" style="font-family:&quot;Liberation Sans&quot;,sans-serif;font-size:23px;letter-spacing:0.5px">G1/2</text>
<text transform="matrix(1.1500 -0.6635 0 1 299.00 362.00)" style="font-family:&quot;Liberation Sans&quot;,sans-serif;font-size:25px;">6°</text>
</svg>
</body></html>
